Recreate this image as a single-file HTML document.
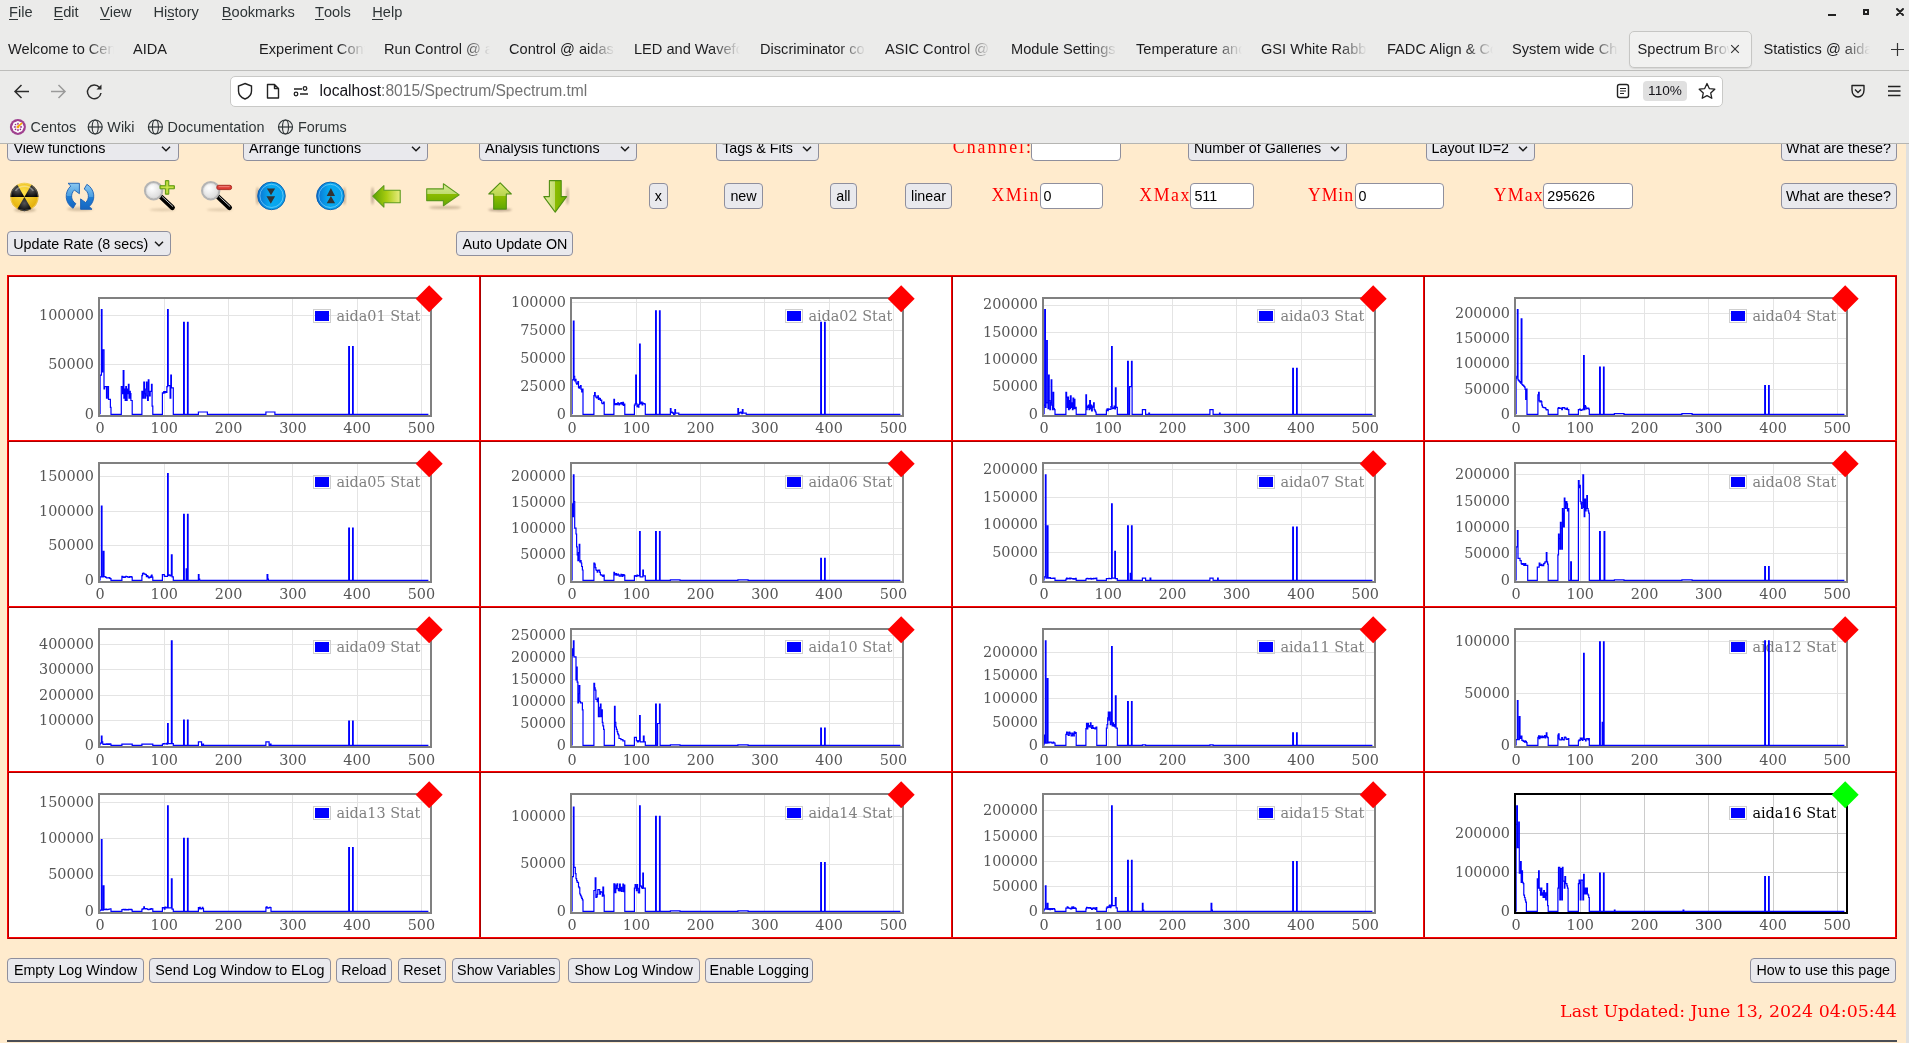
<!DOCTYPE html><html><head><meta charset="utf-8"><title>Spectrum Browser</title>
<style>
*{box-sizing:border-box;margin:0;padding:0}
html,body{width:1909px;height:1043px;overflow:hidden}
body{position:relative;background:#ebebea;font-family:'Liberation Sans', sans-serif;color:#2e3436}
.a{position:absolute;white-space:nowrap}
.mi{position:absolute;top:3px;font-size:14.6px;line-height:18px;color:#2e3436}
.mi u{text-decoration:none;border-bottom:1px solid #2e3436;display:inline-block;line-height:14px}
.tab{position:absolute;top:40px;font-size:14.6px;line-height:18px;color:#1c1c1e;width:106px;overflow:hidden;white-space:nowrap;
  -webkit-mask-image:linear-gradient(to right,#000 74%,transparent 100%);mask-image:linear-gradient(to right,#000 74%,transparent 100%)}
.bm{position:absolute;top:118px;font-size:14.4px;line-height:18px;color:#2e3436}
.btn{position:absolute;background:#e9e9ed;border:1px solid #8f8f9d;border-radius:4px;font-size:14.3px;color:#000;
  text-align:center;white-space:nowrap;line-height:22px}
.sel{position:absolute;background:#e9e9ed;border:1px solid #8f8f9d;border-radius:4px;font-size:14.3px;color:#000;
  white-space:nowrap;overflow:hidden}
.inp{position:absolute;background:#fff;border:1px solid #8f8f9d;border-radius:4px;font-size:14.3px;color:#000;
  white-space:nowrap;line-height:22px;padding-left:3px}
.lbl{position:absolute;font-family:'Liberation Serif', serif;color:#f00;font-size:17.8px;white-space:nowrap}
svg{position:absolute;overflow:visible}
</style></head><body><div class="a" style="left:0;top:0;width:1909px;height:1043px;will-change:transform">
<div class="mi" style="left:9px"><u>F</u>ile</div>
<div class="mi" style="left:53.5px"><u>E</u>dit</div>
<div class="mi" style="left:100px"><u>V</u>iew</div>
<div class="mi" style="left:153.4px">Hi<u>s</u>tory</div>
<div class="mi" style="left:221.8px"><u>B</u>ookmarks</div>
<div class="mi" style="left:315px"><u>T</u>ools</div>
<div class="mi" style="left:372.3px"><u>H</u>elp</div>
<svg style="left:1820px;top:0" width="89" height="26" viewBox="1820 0 89 26"><rect x="1828" y="14" width="8" height="2" fill="#222"/><rect x="1864" y="10" width="4" height="4" fill="none" stroke="#222" stroke-width="2"/><path d="M1897 9 L1903 15 M1903 9 L1897 15" stroke="#222" stroke-width="2" stroke-linecap="round"/></svg>
<div class="a" style="position:absolute;left:1628.5px;top:30.5px;width:123px;height:37px;background:#f1f1f0;border:1px solid #c6c6c4;border-radius:5px;box-shadow:0 1px 1px rgba(0,0,0,0.08)"></div>
<div class="tab" style="left:8px;width:106px">Welcome to Centos</div>
<div class="tab" style="left:133px;width:106px">AIDA</div>
<div class="tab" style="left:259px;width:106px">Experiment Control</div>
<div class="tab" style="left:384px;width:106px">Run Control @ aidas</div>
<div class="tab" style="left:509px;width:106px">Control @ aidas-</div>
<div class="tab" style="left:634px;width:106px">LED and Waveform</div>
<div class="tab" style="left:760px;width:106px">Discriminator co</div>
<div class="tab" style="left:885px;width:106px">ASIC Control @ a</div>
<div class="tab" style="left:1011px;width:106px">Module Settings</div>
<div class="tab" style="left:1136px;width:106px">Temperature and</div>
<div class="tab" style="left:1261px;width:106px">GSI White Rabbit</div>
<div class="tab" style="left:1387px;width:106px">FADC Align & Co</div>
<div class="tab" style="left:1512px;width:106px">System wide Che</div>
<div class="tab" style="left:1637.6px;width:92px">Spectrum Browser</div>
<div class="tab" style="left:1763.5px;width:106px">Statistics @ aida</div>
<svg style="left:1729px;top:43px" width="12" height="12" viewBox="0 0 12 12"><path d="M2.2 2.2 L9.8 9.8 M9.8 2.2 L2.2 9.8" stroke="#333" stroke-width="1.15"/></svg>
<svg style="left:1890px;top:42px" width="15" height="15" viewBox="0 0 15 15"><path d="M7.5 1 V14 M1 7.5 H14" stroke="#333" stroke-width="1.2"/></svg>
<div class="a" style="position:absolute;left:0px;top:70px;width:1909px;height:1px;background:#bdbdbb"></div>
<svg style="left:10px;top:80px" width="100" height="24" viewBox="10 80 100 24"><path d="M15.5 91.5 H29 M21.5 85 L15 91.5 L21.5 98" fill="none" stroke="#2b2b2b" stroke-width="1.5"/><path d="M51 91.5 H65 M58.5 85 L65 91.5 L58.5 98" fill="none" stroke="#9a9a9a" stroke-width="1.5"/><path d="M99.5 87.5 A6.8 6.8 0 1 0 101 93" fill="none" stroke="#2b2b2b" stroke-width="1.5"/><path d="M101.5 84.5 L101.5 89.5 L96.5 89.5 Z" fill="#2b2b2b"/></svg>
<div class="a" style="position:absolute;left:229.5px;top:75.5px;width:1493px;height:31px;background:#fff;border:1px solid #c9c9c7;border-radius:5px"></div>
<svg style="left:235px;top:82px" width="80" height="20" viewBox="235 82 80 20"><path d="M245 83.5 L251.5 86 V91 C251.5 95 249 97.5 245 99 C241 97.5 238.5 95 238.5 91 V86 Z" fill="none" stroke="#222" stroke-width="1.4"/><path d="M267.5 84.5 H274.5 L278.5 88.5 V98 H267.5 Z M274.5 84.5 V88.5 H278.5" fill="none" stroke="#222" stroke-width="1.4" stroke-linejoin="round"/><path d="M294 89 H302 M300 94 H308" stroke="#222" stroke-width="1.4"/><circle cx="305" cy="88.5" r="1.8" fill="none" stroke="#222" stroke-width="1.3"/><circle cx="296" cy="94" r="1.8" fill="none" stroke="#222" stroke-width="1.3"/></svg>
<div class="a" style="left:319.5px;top:82px;font-size:15.6px;line-height:18px;color:#15141a">localhost<span style="color:#737373">:8015/Spectrum/Spectrum.tml</span></div>
<svg style="left:1614px;top:82px" width="110" height="20" viewBox="1614 82 110 20"><rect x="1617.5" y="84.5" width="11" height="13" rx="2" fill="none" stroke="#222" stroke-width="1.4"/><path d="M1620 88.5 H1626 M1620 91 H1626 M1620 93.5 H1624" stroke="#222" stroke-width="1.2"/><path d="M1707 83.5 L1709.3 88.6 L1714.8 89.2 L1710.7 92.9 L1711.8 98.3 L1707 95.6 L1702.2 98.3 L1703.3 92.9 L1699.2 89.2 L1704.7 88.6 Z" fill="none" stroke="#222" stroke-width="1.3" stroke-linejoin="round"/></svg>
<div class="a" style="position:absolute;left:1643px;top:81px;width:44px;height:19.5px;background:#e0e0e0;border-radius:4px;font-size:13.6px;line-height:19.5px;text-align:center;color:#15141a">110%</div>
<svg style="left:1848px;top:82px" width="56" height="18" viewBox="1848 82 56 18"><path d="M1852 85.5 H1864 V90 C1864 94 1861.5 97 1858 97 C1854.5 97 1852 94 1852 90 Z" fill="none" stroke="#222" stroke-width="1.4" stroke-linejoin="round"/><path d="M1855 89.5 L1858 92.5 L1861 89.5" fill="none" stroke="#222" stroke-width="1.4"/><path d="M1888 86.5 H1900.5 M1888 91 H1900.5 M1888 95.5 H1900.5" stroke="#222" stroke-width="1.4"/></svg>
<svg style="left:9px;top:118px" width="300" height="18" viewBox="9 118 300 18"><circle cx="17.9" cy="126.9" r="8" fill="#a0418f"/><path d="M17.9 120.9 L22.1 122.7 L23.9 126.9 L22.1 131.1 L17.9 132.9 L13.7 131.1 L11.9 126.9 L13.7 122.7 Z" fill="#fff"/><path d="M13.8 122.8 H22 V131 H13.8 Z" fill="#fff"/><g fill="#b060a8"><rect x="16.9" y="122.8" width="2" height="2"/><rect x="16.9" y="129.1" width="2" height="2"/><rect x="13.8" y="125.9" width="2" height="2"/><rect x="20.1" y="125.9" width="2" height="2"/></g><g fill="#8e2f80"><circle cx="15.5" cy="124.5" r="0.8"/><circle cx="15.5" cy="129.4" r="0.8"/><circle cx="20.4" cy="129.4" r="0.8"/></g><rect x="16.6" y="125.6" width="2.6" height="2.6" fill="#f0a020"/><path d="M18.6 126.2 L21.6 123.3" stroke="#f5a800" stroke-width="1.6" stroke-linecap="round"/><g fill="none" stroke="#2e3436" stroke-width="1.2"><circle cx="95.2" cy="127" r="7"/><ellipse cx="95.2" cy="127" rx="3" ry="7"/><path d="M88.2 127 H102.2"/></g><g fill="none" stroke="#2e3436" stroke-width="1.2"><circle cx="155.4" cy="127" r="7"/><ellipse cx="155.4" cy="127" rx="3" ry="7"/><path d="M148.4 127 H162.4"/></g><g fill="none" stroke="#2e3436" stroke-width="1.2"><circle cx="285.5" cy="127" r="7"/><ellipse cx="285.5" cy="127" rx="3" ry="7"/><path d="M278.5 127 H292.5"/></g></svg>
<div class="bm" style="left:30.5px">Centos</div>
<div class="bm" style="left:107.3px">Wiki</div>
<div class="bm" style="left:167.6px">Documentation</div>
<div class="bm" style="left:298px">Forums</div>
<div class="a" style="position:absolute;left:0px;top:143px;width:1909px;height:1px;background:#b5b5b2"></div>
<div class="a" style="position:absolute;left:0px;top:144px;width:1906px;height:899px;background:#ffebcd"></div>
<div class="a" style="position:absolute;left:1906px;top:144px;width:3px;height:899px;background:#e0e0e0"></div>
<div class="a" style="left:0;top:144px;width:1906px;height:899px;overflow:hidden">
<div class="a" style="left:0;top:-144px;width:1906px;height:1043px">
<div class="sel" style="position:absolute;left:7.4px;top:135.8px;width:171.2px;height:24.799999999999983px;line-height:22.799999999999983px;padding-left:5px"><span style="position:relative;top:-0.3px">View functions</span></div>
<svg style="left:161.29999999999998px;top:144.5px" width="10" height="8" viewBox="0 0 10 8"><path d="M1 1.8 L5 5.8 L9 1.8" fill="none" stroke="#1a1a1a" stroke-width="1.5"/></svg>
<div class="sel" style="position:absolute;left:243.1px;top:135.8px;width:184.9px;height:24.799999999999983px;line-height:22.799999999999983px;padding-left:5px"><span style="position:relative;top:-0.3px">Arrange functions</span></div>
<svg style="left:410.7px;top:144.5px" width="10" height="8" viewBox="0 0 10 8"><path d="M1 1.8 L5 5.8 L9 1.8" fill="none" stroke="#1a1a1a" stroke-width="1.5"/></svg>
<div class="sel" style="position:absolute;left:479.1px;top:135.8px;width:158.29999999999995px;height:24.799999999999983px;line-height:22.799999999999983px;padding-left:5px"><span style="position:relative;top:-0.3px">Analysis functions</span></div>
<svg style="left:620.1px;top:144.5px" width="10" height="8" viewBox="0 0 10 8"><path d="M1 1.8 L5 5.8 L9 1.8" fill="none" stroke="#1a1a1a" stroke-width="1.5"/></svg>
<div class="sel" style="position:absolute;left:716.2px;top:135.8px;width:103.29999999999995px;height:24.799999999999983px;line-height:22.799999999999983px;padding-left:5px"><span style="position:relative;top:-0.3px">Tags &amp; Fits</span></div>
<svg style="left:802.2px;top:144.5px" width="10" height="8" viewBox="0 0 10 8"><path d="M1 1.8 L5 5.8 L9 1.8" fill="none" stroke="#1a1a1a" stroke-width="1.5"/></svg>
<div class="lbl" style="left:952.8px;top:137.4px;line-height:20px;letter-spacing:2.0px">Channel:</div>
<div class="inp" style="position:absolute;left:1031.4px;top:135.8px;width:89.19999999999982px;height:24.799999999999983px;line-height:22.799999999999983px"><span style="position:relative;top:0.9px"></span></div>
<div class="sel" style="position:absolute;left:1188px;top:135.8px;width:159px;height:24.799999999999983px;line-height:22.799999999999983px;padding-left:5px"><span style="position:relative;top:-0.3px">Number of Galleries</span></div>
<svg style="left:1329.7px;top:144.5px" width="10" height="8" viewBox="0 0 10 8"><path d="M1 1.8 L5 5.8 L9 1.8" fill="none" stroke="#1a1a1a" stroke-width="1.5"/></svg>
<div class="sel" style="position:absolute;left:1425.5px;top:135.8px;width:109.70000000000005px;height:24.799999999999983px;line-height:22.799999999999983px;padding-left:5px"><span style="position:relative;top:-0.3px">Layout ID=2</span></div>
<svg style="left:1517.9px;top:144.5px" width="10" height="8" viewBox="0 0 10 8"><path d="M1 1.8 L5 5.8 L9 1.8" fill="none" stroke="#1a1a1a" stroke-width="1.5"/></svg>
<div class="btn" style="position:absolute;left:1780.5px;top:135.8px;width:116.0px;height:24.799999999999983px;line-height:22.799999999999983px"><span style="position:relative;top:-0.3px">What are these?</span></div>
<div class="btn" style="position:absolute;left:649.2px;top:183.4px;width:18.5px;height:25.299999999999983px;line-height:23.299999999999983px"><span style="position:relative;top:0.8px">x</span></div>
<div class="btn" style="position:absolute;left:724.3px;top:183.4px;width:38.40000000000009px;height:25.299999999999983px;line-height:23.299999999999983px"><span style="position:relative;top:0.8px">new</span></div>
<div class="btn" style="position:absolute;left:830.2px;top:183.4px;width:26.399999999999977px;height:25.299999999999983px;line-height:23.299999999999983px"><span style="position:relative;top:0.8px">all</span></div>
<div class="btn" style="position:absolute;left:905.2px;top:183.4px;width:46.59999999999991px;height:25.299999999999983px;line-height:23.299999999999983px"><span style="position:relative;top:0.8px">linear</span></div>
<div class="lbl" style="left:991.6px;top:184.9px;line-height:20px;letter-spacing:1.4px">XMin</div>
<div class="inp" style="position:absolute;left:1039.5px;top:183.4px;width:63.200000000000045px;height:25.299999999999983px;line-height:23.299999999999983px"><span style="position:relative;top:0.9px">0</span></div>
<div class="lbl" style="left:1139.2px;top:184.9px;line-height:20px;letter-spacing:1.6px">XMax</div>
<div class="inp" style="position:absolute;left:1190.4px;top:183.4px;width:63.299999999999955px;height:25.299999999999983px;line-height:23.299999999999983px"><span style="position:relative;top:0.9px">511</span></div>
<div class="lbl" style="left:1307.9px;top:184.9px;line-height:20px;letter-spacing:0.9px">YMin</div>
<div class="inp" style="position:absolute;left:1354.5px;top:183.4px;width:89.20000000000005px;height:25.299999999999983px;line-height:23.299999999999983px"><span style="position:relative;top:0.9px">0</span></div>
<div class="lbl" style="left:1493.7px;top:184.9px;line-height:20px;letter-spacing:1.2px">YMax</div>
<div class="inp" style="position:absolute;left:1543.3px;top:183.4px;width:89.29999999999995px;height:25.299999999999983px;line-height:23.299999999999983px"><span style="position:relative;top:0.9px">295626</span></div>
<div class="btn" style="position:absolute;left:1780.5px;top:183.4px;width:116.0px;height:25.299999999999983px;line-height:23.299999999999983px"><span style="position:relative;top:0.8px">What are these?</span></div>
<div class="sel" style="position:absolute;left:7.2px;top:231.4px;width:164.10000000000002px;height:24.799999999999983px;line-height:22.799999999999983px;padding-left:5px"><span style="position:relative;top:0.8px">Update Rate (8 secs)</span></div>
<svg style="left:154.0px;top:240.10000000000002px" width="10" height="8" viewBox="0 0 10 8"><path d="M1 1.8 L5 5.8 L9 1.8" fill="none" stroke="#1a1a1a" stroke-width="1.5"/></svg>
<div class="btn" style="position:absolute;left:456.3px;top:231.4px;width:117.19999999999999px;height:24.799999999999983px;line-height:22.799999999999983px"><span style="position:relative;top:0.8px">Auto Update ON</span></div>
<div class="btn" style="position:absolute;left:7.3px;top:957.6px;width:136.39999999999998px;height:25.0px;line-height:23.0px"><span style="position:relative;top:0.8px">Empty Log Window</span></div>
<div class="btn" style="position:absolute;left:149.2px;top:957.6px;width:181.5px;height:25.0px;line-height:23.0px"><span style="position:relative;top:0.8px">Send Log Window to ELog</span></div>
<div class="btn" style="position:absolute;left:336.2px;top:957.6px;width:55.400000000000034px;height:25.0px;line-height:23.0px"><span style="position:relative;top:0.8px">Reload</span></div>
<div class="btn" style="position:absolute;left:398.2px;top:957.6px;width:47.5px;height:25.0px;line-height:23.0px"><span style="position:relative;top:0.8px">Reset</span></div>
<div class="btn" style="position:absolute;left:452.3px;top:957.6px;width:107.90000000000003px;height:25.0px;line-height:23.0px"><span style="position:relative;top:0.8px">Show Variables</span></div>
<div class="btn" style="position:absolute;left:567.6px;top:957.6px;width:132.0px;height:25.0px;line-height:23.0px"><span style="position:relative;top:0.8px">Show Log Window</span></div>
<div class="btn" style="position:absolute;left:705.4px;top:957.6px;width:107.80000000000007px;height:25.0px;line-height:23.0px"><span style="position:relative;top:0.8px">Enable Logging</span></div>
<div class="btn" style="position:absolute;left:1750.1px;top:957.6px;width:146.4000000000001px;height:25.0px;line-height:23.0px"><span style="position:relative;top:0.8px">How to use this page</span></div>
<div class="a" style="right:9.200000000000045px;top:1001.0px;font-family:'DejaVu Serif', 'Liberation Serif', serif;font-size:17.4px;line-height:20px;color:#f00">Last Updated: June 13, 2024 04:05:44</div>
<div class="a" style="position:absolute;left:7px;top:1040px;width:1890px;height:2px;background:#4b4e55"></div>
<svg style="left:0;top:170px" width="600" height="50" viewBox="0 170 600 50"><defs><radialGradient id="gY" cx="0.45" cy="0.35" r="0.7"><stop offset="0" stop-color="#ffe24a"/><stop offset="1" stop-color="#e0a800"/></radialGradient><radialGradient id="gK" cx="0.5" cy="0.45" r="0.6"><stop offset="0" stop-color="#555"/><stop offset="1" stop-color="#050505"/></radialGradient><linearGradient id="gB" x1="0" y1="0" x2="1" y2="0"><stop offset="0" stop-color="#0a6fd0"/><stop offset="0.45" stop-color="#08aaf0"/><stop offset="1" stop-color="#0aa0ea"/></linearGradient><linearGradient id="gR" x1="0" y1="0" x2="0" y2="1"><stop offset="0" stop-color="#8cc8f0"/><stop offset="0.5" stop-color="#4a9ee0"/><stop offset="0.5" stop-color="#1f7fd6"/><stop offset="1" stop-color="#1565c0"/></linearGradient><linearGradient id="gL" x1="0" y1="0" x2="1" y2="0"><stop offset="0" stop-color="#5aa000"/><stop offset="0.5" stop-color="#a8cc10"/><stop offset="1" stop-color="#e8ec80"/></linearGradient><linearGradient id="gRt" x1="0" y1="0" x2="0" y2="1"><stop offset="0" stop-color="#d8ea98"/><stop offset="0.45" stop-color="#c0dc70"/><stop offset="0.46" stop-color="#8cbc00"/><stop offset="1" stop-color="#6aa800"/></linearGradient><linearGradient id="gU" x1="0" y1="0" x2="0" y2="1"><stop offset="0" stop-color="#dcea70"/><stop offset="0.5" stop-color="#b8d450"/><stop offset="0.52" stop-color="#8cbc00"/><stop offset="1" stop-color="#5ea800"/></linearGradient><linearGradient id="gD" x1="0" y1="0" x2="1" y2="0"><stop offset="0" stop-color="#e4ee9c"/><stop offset="0.48" stop-color="#c4dc70"/><stop offset="0.5" stop-color="#8cbc00"/><stop offset="1" stop-color="#6aae00"/></linearGradient><radialGradient id="gG" cx="0.4" cy="0.35" r="0.6"><stop offset="0" stop-color="#fff"/><stop offset="1" stop-color="#dcdcdc"/></radialGradient><filter id="bl" x="-50%" y="-50%" width="200%" height="200%"><feGaussianBlur stdDeviation="1.2"/></filter></defs><ellipse cx="25" cy="210" rx="11" ry="2" fill="#7a6040" opacity="0.35" filter="url(#bl)"/><circle cx="24.4" cy="196.9" r="14.1" fill="url(#gY)"/><path d="M24.4 196.9L31.45 184.69A14.1 14.1 0 0 1 38.50 196.90Z" fill="url(#gK)"/><path d="M24.4 196.9L31.45 209.11A14.1 14.1 0 0 1 17.35 209.11Z" fill="url(#gK)"/><path d="M24.4 196.9L10.30 196.90A14.1 14.1 0 0 1 17.35 184.69Z" fill="url(#gK)"/><circle cx="24.4" cy="196.9" r="13.6" fill="none" stroke="#ffffff" stroke-opacity="0.25" stroke-width="1"/><path d="M15.399999999999999 190.9 A11 11 0 0 1 33.4 190.9" fill="none" stroke="#fff" stroke-opacity="0.35" stroke-width="1.5"/><ellipse cx="80" cy="209" rx="13" ry="2" fill="#7a6040" opacity="0.3" filter="url(#bl)"/><g fill="url(#gR)" stroke="#1a5fb4" stroke-width="0.9" stroke-linejoin="round"><path d="M73.10 208.25A13.8 13.8 0 0 1 70.77 186.04L68.00 183.30L79.40 183.30L79.40 193.70L74.38 190.06A8.4 8.4 0 0 0 75.80 203.57Z"/><path d="M86.90 184.35A13.8 13.8 0 0 1 89.23 206.56L92.00 209.30L80.60 209.30L80.60 198.90L85.62 202.54A8.4 8.4 0 0 0 84.20 189.03Z"/></g><ellipse cx="162.6" cy="209.8" rx="13" ry="1.5" fill="#7a6040" opacity="0.22" filter="url(#bl)"/><path d="M161.1 197 L172.4 207.6" stroke="#000" stroke-width="5" stroke-linecap="round"/><path d="M162.2 196.6 L172.79999999999998 206.4" stroke="#c8c8c8" stroke-width="1" stroke-linecap="round"/><circle cx="153.6" cy="190.7" r="8.6" fill="url(#gG)" stroke="#b4b4b4" stroke-width="2.2"/><circle cx="153.6" cy="190.7" r="7.2" fill="none" stroke="#d8d8d8" stroke-width="0.8"/><path d="M165.4 180.6 H168.8 V185.7 H174.4 V188.8 H168.8 V194.2 H165.4 V188.8 H160 V185.7 H165.4 Z" fill="#a8cc28" stroke="#5f9a14" stroke-width="1" stroke-linejoin="round"/><path d="M167.1 181.8 V193 M161.2 187.25 H173.2" stroke="#d4ec5a" stroke-width="0.9"/><ellipse cx="219.7" cy="209.8" rx="13" ry="1.5" fill="#7a6040" opacity="0.22" filter="url(#bl)"/><path d="M218.2 197 L229.5 207.6" stroke="#000" stroke-width="5" stroke-linecap="round"/><path d="M219.29999999999998 196.6 L229.89999999999998 206.4" stroke="#c8c8c8" stroke-width="1" stroke-linecap="round"/><circle cx="210.7" cy="190.7" r="8.6" fill="url(#gG)" stroke="#b4b4b4" stroke-width="2.2"/><circle cx="210.7" cy="190.7" r="7.2" fill="none" stroke="#d8d8d8" stroke-width="0.8"/><rect x="216.8" y="185.3" width="14.8" height="4.3" rx="1.8" fill="#dc3c34" stroke="#a82a22" stroke-width="0.9"/><path d="M218.6 186.7 H229.6" stroke="#f29088" stroke-width="0.9"/><ellipse cx="257.5" cy="196" rx="1.2" ry="9" fill="#5a4030" opacity="0.45" filter="url(#bl)"/><circle cx="271.5" cy="195.9" r="13.8" fill="url(#gB)" stroke="#0b5cad" stroke-width="0.9"/><circle cx="271.5" cy="195.9" r="11.6" fill="none" stroke="#8fd6ff" stroke-opacity="0.7" stroke-width="0.9"/><path d="M266.9 188.6 H275.1 L271.0 195.2 Z M266.5 196.3 H275.1 L270.8 203.8 Z" fill="#333"/><ellipse cx="344.4" cy="196" rx="1.2" ry="9" fill="#5a4030" opacity="0.45" filter="url(#bl)"/><circle cx="330.4" cy="195.9" r="13.8" fill="url(#gB)" stroke="#0b5cad" stroke-width="0.9"/><circle cx="330.4" cy="195.9" r="11.6" fill="none" stroke="#8fd6ff" stroke-opacity="0.7" stroke-width="0.9"/><path d="M326.7 195.9 H335.0 L330.9 187.9 Z M326.7 203.2 H335.09999999999997 L330.9 196.1 Z" fill="#333"/><ellipse cx="372.5" cy="196" rx="1.2" ry="9" fill="#5a4030" opacity="0.45" filter="url(#bl)"/><path d="M372.8 196.2 L383.9 185.7 L383.9 190.2 L400.2 190.2 L400.2 202.7 L383.9 202.7 L383.9 207.1 Z" fill="url(#gL)" stroke="#5c9a1c" stroke-width="1.1" stroke-linejoin="round"/><ellipse cx="445" cy="207.5" rx="16" ry="1.6" fill="#7a6040" opacity="0.35" filter="url(#bl)"/><path d="M426.7 188.9 L443.4 188.9 L443.4 183.7 L459.2 194.9 L443.4 205.7 L443.4 200.6 L426.7 200.6 Z" fill="url(#gRt)" stroke="#5c9a1c" stroke-width="1.1" stroke-linejoin="round"/><ellipse cx="500" cy="209.8" rx="12" ry="1.6" fill="#5a4030" opacity="0.4" filter="url(#bl)"/><path d="M500.2 182.8 L511.3 194 L506.3 194 L506.3 209.1 L493.7 209.1 L493.7 194 L488.8 194 Z" fill="url(#gU)" stroke="#4f8e12" stroke-width="1.1" stroke-linejoin="round"/><ellipse cx="567.5" cy="196" rx="1.1" ry="9" fill="#5a4030" opacity="0.4" filter="url(#bl)"/><path d="M549.4 180.6 L561.2 180.6 L561.2 196.6 L566.6 196.6 L555.2 212.1 L543.8 196.6 L549.4 196.6 Z" fill="url(#gD)" stroke="#4f8e12" stroke-width="1.1" stroke-linejoin="round"/></svg>
<svg style="left:0;top:0" width="1909" height="1043" viewBox="0 0 1909 1043"><rect x="7" y="275" width="1890" height="664" fill="#fff"/><rect x="7" y="275" width="1" height="664" fill="#ff0000"/><rect x="8" y="276" width="1" height="663" fill="#aa0000"/><rect x="479" y="275" width="1" height="664" fill="#ff0000"/><rect x="480" y="276" width="1" height="663" fill="#aa0000"/><rect x="951" y="275" width="1" height="664" fill="#ff0000"/><rect x="952" y="276" width="1" height="663" fill="#aa0000"/><rect x="1423" y="275" width="1" height="664" fill="#ff0000"/><rect x="1424" y="276" width="1" height="663" fill="#aa0000"/><rect x="1895" y="275" width="1" height="664" fill="#ff0000"/><rect x="1896" y="276" width="1" height="663" fill="#aa0000"/><rect x="7" y="275" width="1890" height="1" fill="#ff0000"/><rect x="8" y="276" width="1889" height="1" fill="#aa0000"/><rect x="7" y="440" width="1890" height="1" fill="#ff0000"/><rect x="8" y="441" width="1889" height="1" fill="#aa0000"/><rect x="7" y="606" width="1890" height="1" fill="#ff0000"/><rect x="8" y="607" width="1889" height="1" fill="#aa0000"/><rect x="7" y="771" width="1890" height="1" fill="#ff0000"/><rect x="8" y="772" width="1889" height="1" fill="#aa0000"/><rect x="7" y="937" width="1890" height="1" fill="#ff0000"/><rect x="8" y="938" width="1889" height="1" fill="#aa0000"/><path d="M164.5 299V415" stroke="#e4e4e4" stroke-width="1"/><path d="M228.5 299V415" stroke="#e4e4e4" stroke-width="1"/><path d="M292.5 299V415" stroke="#e4e4e4" stroke-width="1"/><path d="M357.5 299V415" stroke="#e4e4e4" stroke-width="1"/><path d="M421.5 299V415" stroke="#e4e4e4" stroke-width="1"/><path d="M100 364.5H430" stroke="#e4e4e4" stroke-width="1"/><path d="M100 315.5H430" stroke="#e4e4e4" stroke-width="1"/><text x="94" y="418.7" text-anchor="end" fill="#555" style="font-family:'DejaVu Serif','Liberation Serif',serif;font-size:14.4px">0</text><text x="94" y="369.3" text-anchor="end" fill="#555" style="font-family:'DejaVu Serif','Liberation Serif',serif;font-size:14.4px">50000</text><text x="94" y="320.0" text-anchor="end" fill="#555" style="font-family:'DejaVu Serif','Liberation Serif',serif;font-size:14.4px">100000</text><text x="100.1" y="433" text-anchor="middle" fill="#555" style="font-family:'DejaVu Serif','Liberation Serif',serif;font-size:14.4px">0</text><text x="164.3" y="433" text-anchor="middle" fill="#555" style="font-family:'DejaVu Serif','Liberation Serif',serif;font-size:14.4px">100</text><text x="228.6" y="433" text-anchor="middle" fill="#555" style="font-family:'DejaVu Serif','Liberation Serif',serif;font-size:14.4px">200</text><text x="292.9" y="433" text-anchor="middle" fill="#555" style="font-family:'DejaVu Serif','Liberation Serif',serif;font-size:14.4px">300</text><text x="357.1" y="433" text-anchor="middle" fill="#555" style="font-family:'DejaVu Serif','Liberation Serif',serif;font-size:14.4px">400</text><text x="421.4" y="433" text-anchor="middle" fill="#555" style="font-family:'DejaVu Serif','Liberation Serif',serif;font-size:14.4px">500</text><rect x="313.5" y="309.5" width="17" height="13" fill="none" stroke="#cfcfcf" stroke-width="1"/><rect x="315" y="311" width="14" height="10" fill="#0000ff"/><text x="336.4" y="320.8" fill="#808080" style="font-family:'DejaVu Serif','Liberation Serif',serif;font-size:14.4px">aida01 Stat</text><path d="M100.1 414.3V375.2H101.4V309.6H102V371.8H102.7V349.9H104V389H104.6V386.7H106.5V398.2H107.2V386.7H108.5V399.4H110.4V407.4H111V414.3H121.3V386.7H122.6V393.6H123.2V370.6H123.9V398.2H124.5V389H125.2V400.5H125.8V386.7H126.4V400.5H127.1V389H127.7V393.6H128.4V384.4H129V398.2H129.7V391.3H130.3V393.6H130.9V400.5H132.2V414.3H141.9V391.3H143.1V398.2H143.8V382.1H144.4V393.6H145.1V398.2H145.7V389H146.4V382.1H147V395.9H147.6V400.5H148.3V379.8H148.9V391.3H149.6V395.9H150.2V391.3H151.5V384.4H152.1V406.2H152.8V414.3H162.4V392.9H163.1V393.1H163.7V391.7H164.3V392.9H165V391.6H165.6V391.8H166.3V392.3H166.9V386.7H167.6V309.6H168.2V385.6H170.1V398.2H170.8V375.2H171.4V387.9H173.3V414.3H183.6V322.3H184.3V414.3H187.5V322.3H188.1V414.3H198.4V412H207.4V414.3H265.9V412H274.9V414.3H348.7V346.5H349.4V414.3H352.6V346.5H353.2V414.3H428.4" fill="none" stroke="#0000ff" stroke-width="1.2" stroke-linejoin="miter"/><rect x="99" y="298" width="332" height="118" fill="none" stroke="#808080" stroke-width="2"/><path d="M429.2 285.2L442.7 298.7L429.2 312.2L415.7 298.7Z" fill="#ff0000"/><path d="M636.5 299V415" stroke="#e4e4e4" stroke-width="1"/><path d="M700.5 299V415" stroke="#e4e4e4" stroke-width="1"/><path d="M764.5 299V415" stroke="#e4e4e4" stroke-width="1"/><path d="M829.5 299V415" stroke="#e4e4e4" stroke-width="1"/><path d="M893.5 299V415" stroke="#e4e4e4" stroke-width="1"/><path d="M572 386.5H902" stroke="#e4e4e4" stroke-width="1"/><path d="M572 358.5H902" stroke="#e4e4e4" stroke-width="1"/><path d="M572 330.5H902" stroke="#e4e4e4" stroke-width="1"/><path d="M572 302.5H902" stroke="#e4e4e4" stroke-width="1"/><text x="566" y="418.7" text-anchor="end" fill="#555" style="font-family:'DejaVu Serif','Liberation Serif',serif;font-size:14.4px">0</text><text x="566" y="390.9" text-anchor="end" fill="#555" style="font-family:'DejaVu Serif','Liberation Serif',serif;font-size:14.4px">25000</text><text x="566" y="363.0" text-anchor="end" fill="#555" style="font-family:'DejaVu Serif','Liberation Serif',serif;font-size:14.4px">50000</text><text x="566" y="335.2" text-anchor="end" fill="#555" style="font-family:'DejaVu Serif','Liberation Serif',serif;font-size:14.4px">75000</text><text x="566" y="307.4" text-anchor="end" fill="#555" style="font-family:'DejaVu Serif','Liberation Serif',serif;font-size:14.4px">100000</text><text x="572.1" y="433" text-anchor="middle" fill="#555" style="font-family:'DejaVu Serif','Liberation Serif',serif;font-size:14.4px">0</text><text x="636.4" y="433" text-anchor="middle" fill="#555" style="font-family:'DejaVu Serif','Liberation Serif',serif;font-size:14.4px">100</text><text x="700.6" y="433" text-anchor="middle" fill="#555" style="font-family:'DejaVu Serif','Liberation Serif',serif;font-size:14.4px">200</text><text x="764.9" y="433" text-anchor="middle" fill="#555" style="font-family:'DejaVu Serif','Liberation Serif',serif;font-size:14.4px">300</text><text x="829.1" y="433" text-anchor="middle" fill="#555" style="font-family:'DejaVu Serif','Liberation Serif',serif;font-size:14.4px">400</text><text x="893.4" y="433" text-anchor="middle" fill="#555" style="font-family:'DejaVu Serif','Liberation Serif',serif;font-size:14.4px">500</text><rect x="785.5" y="309.5" width="17" height="13" fill="none" stroke="#cfcfcf" stroke-width="1"/><rect x="787" y="311" width="14" height="10" fill="#0000ff"/><text x="808.4" y="320.8" fill="#808080" style="font-family:'DejaVu Serif','Liberation Serif',serif;font-size:14.4px">aida02 Stat</text><path d="M572.1 414.3V379.8H573.4V321.1H574V376.3H574.7V380.8H575.3V379.3H576V383H576.6V384.1H577.2V383.1H577.9V381.5H578.5V387.6H579.2V388.2H579.8V386.6H580.5V385.6H581.1V389.4H581.7V391.9H582.4V389.2H583V414.3H593.9V395.7H594.6V392.6H595.2V395.8H595.9V397.1H596.5V397.8H597.2V397.5H597.8V395.8H598.4V399.4H599.1V398.1H599.7V398.5H600.4V400.3H601V400.1H601.7V403H602.3V403.6H602.9V403.5H603.6V402H604.2V414.3H613.9V399.4H614.5V404.2H615.1V404.6H615.8V403.7H616.4V404.1H617.1V404.6H617.7V402.9H618.4V403.3H619V404.8H619.6V403.7H620.3V403.9H620.9V402.7H621.6V403.2H622.2V404.7H622.9V402.3H623.5V405.3H624.1V404.2H624.8V414.3H634.4V405.1H635.1V403.9H635.7V375.2H636.4V403.9H637V406.7H637.6V405.2H638.3V407.2H638.9V404.3H639.6V344.2H640.2V402.7H640.8V403.6H641.5V402.2H642.1V404.8H642.8V403.1H643.4V403.5H644.1V403.6H644.7V404.2H645.3V414.3H655.6V310.8H656.3V414.3H659.5V310.8H660.1V414.3H670.4V408.6H671V412.4H671.7V412.1H672.3V413.2H673V412.8H673.6V414.3H674.9V409.7H675.5V413.2H678.8V414.3H737.9V408.6H738.5V414.2H739.1V412.7H739.8V412.8H740.4V412H741.1V412.4H741.7V413.6H742.4V409.7H743V413.2H746.2V414.3H820.7V322.3H821.4V414.3H824.6V322.3H825.2V414.3H900.4" fill="none" stroke="#0000ff" stroke-width="1.2" stroke-linejoin="miter"/><rect x="571" y="298" width="332" height="118" fill="none" stroke="#808080" stroke-width="2"/><path d="M901.2 285.2L914.7 298.7L901.2 312.2L887.7 298.7Z" fill="#ff0000"/><path d="M1108.5 299V415" stroke="#e4e4e4" stroke-width="1"/><path d="M1172.5 299V415" stroke="#e4e4e4" stroke-width="1"/><path d="M1236.5 299V415" stroke="#e4e4e4" stroke-width="1"/><path d="M1301.5 299V415" stroke="#e4e4e4" stroke-width="1"/><path d="M1365.5 299V415" stroke="#e4e4e4" stroke-width="1"/><path d="M1044 386.5H1374" stroke="#e4e4e4" stroke-width="1"/><path d="M1044 359.5H1374" stroke="#e4e4e4" stroke-width="1"/><path d="M1044 332.5H1374" stroke="#e4e4e4" stroke-width="1"/><path d="M1044 305.5H1374" stroke="#e4e4e4" stroke-width="1"/><text x="1038" y="418.7" text-anchor="end" fill="#555" style="font-family:'DejaVu Serif','Liberation Serif',serif;font-size:14.4px">0</text><text x="1038" y="391.4" text-anchor="end" fill="#555" style="font-family:'DejaVu Serif','Liberation Serif',serif;font-size:14.4px">50000</text><text x="1038" y="364.1" text-anchor="end" fill="#555" style="font-family:'DejaVu Serif','Liberation Serif',serif;font-size:14.4px">100000</text><text x="1038" y="336.8" text-anchor="end" fill="#555" style="font-family:'DejaVu Serif','Liberation Serif',serif;font-size:14.4px">150000</text><text x="1038" y="309.4" text-anchor="end" fill="#555" style="font-family:'DejaVu Serif','Liberation Serif',serif;font-size:14.4px">200000</text><text x="1044.1" y="433" text-anchor="middle" fill="#555" style="font-family:'DejaVu Serif','Liberation Serif',serif;font-size:14.4px">0</text><text x="1108.3" y="433" text-anchor="middle" fill="#555" style="font-family:'DejaVu Serif','Liberation Serif',serif;font-size:14.4px">100</text><text x="1172.6" y="433" text-anchor="middle" fill="#555" style="font-family:'DejaVu Serif','Liberation Serif',serif;font-size:14.4px">200</text><text x="1236.8" y="433" text-anchor="middle" fill="#555" style="font-family:'DejaVu Serif','Liberation Serif',serif;font-size:14.4px">300</text><text x="1301.1" y="433" text-anchor="middle" fill="#555" style="font-family:'DejaVu Serif','Liberation Serif',serif;font-size:14.4px">400</text><text x="1365.3" y="433" text-anchor="middle" fill="#555" style="font-family:'DejaVu Serif','Liberation Serif',serif;font-size:14.4px">500</text><rect x="1257.5" y="309.5" width="17" height="13" fill="none" stroke="#cfcfcf" stroke-width="1"/><rect x="1259" y="311" width="14" height="10" fill="#0000ff"/><text x="1280.4" y="320.8" fill="#808080" style="font-family:'DejaVu Serif','Liberation Serif',serif;font-size:14.4px">aida03 Stat</text><path d="M1044.1 414.3V405.1H1044.7V309.6H1045.4V407.4H1046V402.8H1046.7V340.7H1047.3V402.8H1048V408.6H1048.6V375.2H1049.2V400.5H1049.9V409.7H1050.5V402.8H1051.2V379.8H1051.8V405.1H1052.5V409.7H1053.1V392.4H1053.7V408.6H1054.4V409.7H1055V414.3H1065.9V392.4H1066.6V397.1H1067.2V407.4H1067.9V397.1H1068.5V409.7H1069.2V400.5H1069.8V408.6H1070.4V395.9H1071.1V407.4H1071.7V402.8H1072.4V409.7H1073V398.2H1073.7V408.6H1074.3V399.4H1074.9V408.6H1075.6V407.4H1076.2V414.3H1085.9V394.8H1086.5V409.7H1087.1V406.2H1087.8V407.4H1088.4V405.1H1089.1V409.7H1089.7V400.5H1090.4V408.6H1091V405.1H1091.6V410.9H1092.3V407.4H1092.9V406.2H1093.6V402.8H1094.2V409.7H1094.9V410.9H1095.5V412H1096.1V414.3H1106.4V410.1H1107.1V408.8H1107.7V410.7H1108.3V408.8H1109V409.5H1109.6V409.4H1110.3V409.3H1110.9V406.5H1111.6V346.5H1112.2V408.7H1112.8V408.3H1113.5V407.8H1114.1V406.1H1114.8V408.8H1115.4V387.9H1116.1V407.4H1117.3V414.3H1127.6V361.4H1128.3V414.3H1129.6V386.7H1131.5V361.4H1132.1V414.3H1142.4V409.7H1145.6V414.3H1148.8V413.2H1149.5V414.3H1209.9V409.7H1213.1V414.3H1219.5V413.2H1220.1V414.3H1292.7V368.3H1293.4V414.3H1296.6V368.3H1297.2V414.3H1372.4" fill="none" stroke="#0000ff" stroke-width="1.2" stroke-linejoin="miter"/><rect x="1043" y="298" width="332" height="118" fill="none" stroke="#808080" stroke-width="2"/><path d="M1373.2 285.2L1386.7 298.7L1373.2 312.2L1359.7 298.7Z" fill="#ff0000"/><path d="M1580.5 299V415" stroke="#e4e4e4" stroke-width="1"/><path d="M1644.5 299V415" stroke="#e4e4e4" stroke-width="1"/><path d="M1708.5 299V415" stroke="#e4e4e4" stroke-width="1"/><path d="M1773.5 299V415" stroke="#e4e4e4" stroke-width="1"/><path d="M1837.5 299V415" stroke="#e4e4e4" stroke-width="1"/><path d="M1516 389.5H1846" stroke="#e4e4e4" stroke-width="1"/><path d="M1516 363.5H1846" stroke="#e4e4e4" stroke-width="1"/><path d="M1516 338.5H1846" stroke="#e4e4e4" stroke-width="1"/><path d="M1516 313.5H1846" stroke="#e4e4e4" stroke-width="1"/><text x="1510" y="418.7" text-anchor="end" fill="#555" style="font-family:'DejaVu Serif','Liberation Serif',serif;font-size:14.4px">0</text><text x="1510" y="393.5" text-anchor="end" fill="#555" style="font-family:'DejaVu Serif','Liberation Serif',serif;font-size:14.4px">50000</text><text x="1510" y="368.4" text-anchor="end" fill="#555" style="font-family:'DejaVu Serif','Liberation Serif',serif;font-size:14.4px">100000</text><text x="1510" y="343.2" text-anchor="end" fill="#555" style="font-family:'DejaVu Serif','Liberation Serif',serif;font-size:14.4px">150000</text><text x="1510" y="318.1" text-anchor="end" fill="#555" style="font-family:'DejaVu Serif','Liberation Serif',serif;font-size:14.4px">200000</text><text x="1516.1" y="433" text-anchor="middle" fill="#555" style="font-family:'DejaVu Serif','Liberation Serif',serif;font-size:14.4px">0</text><text x="1580.3" y="433" text-anchor="middle" fill="#555" style="font-family:'DejaVu Serif','Liberation Serif',serif;font-size:14.4px">100</text><text x="1644.6" y="433" text-anchor="middle" fill="#555" style="font-family:'DejaVu Serif','Liberation Serif',serif;font-size:14.4px">200</text><text x="1708.8" y="433" text-anchor="middle" fill="#555" style="font-family:'DejaVu Serif','Liberation Serif',serif;font-size:14.4px">300</text><text x="1773.1" y="433" text-anchor="middle" fill="#555" style="font-family:'DejaVu Serif','Liberation Serif',serif;font-size:14.4px">400</text><text x="1837.3" y="433" text-anchor="middle" fill="#555" style="font-family:'DejaVu Serif','Liberation Serif',serif;font-size:14.4px">500</text><rect x="1729.5" y="309.5" width="17" height="13" fill="none" stroke="#cfcfcf" stroke-width="1"/><rect x="1731" y="311" width="14" height="10" fill="#0000ff"/><text x="1752.4" y="320.8" fill="#808080" style="font-family:'DejaVu Serif','Liberation Serif',serif;font-size:14.4px">aida04 Stat</text><path d="M1516.1 414.3V378.1H1516.7V376.4H1517.4V309.6H1518V379.8H1518.7V380.7H1519.3V381.5H1520V382.4H1520.6V383.2H1521.2V318.9H1521.9V384.5H1522.5V385.2H1523.2V385.4H1523.8V386.4H1524.5V387.2H1525.1V389.5H1525.7V399.4H1526.4V389H1527V414.3H1537.9V394.8H1538.6V392.4H1539.2V400.8H1539.9V401.8H1540.5V400.9H1541.2V401.5H1541.8V405.2H1542.4V407H1543.1V407.3H1543.7V407.7H1544.4V407.6H1545V407.8H1545.7V409H1546.3V410H1546.9V409.5H1547.6V410H1548.2V414.3H1557.9V408.4H1558.5V407.5H1559.1V408.1H1559.8V408.5H1560.4V408.3H1561.1V408.1H1561.7V409.6H1562.4V407.6H1563V407.9H1563.6V407.7H1564.3V407.9H1564.9V408.8H1565.6V408.8H1566.2V409.5H1566.9V408.2H1567.5V409.6H1568.1V409.5H1568.8V414.3H1578.4V409.6H1579.1V409.7H1579.7V409.1H1580.3V410.1H1581V410.3H1581.6V409.8H1582.3V409.9H1582.9V409H1583.6V355.7H1584.2V409.6H1584.8V405.7H1585.5V406.9H1586.1V409H1586.8V408.5H1587.4V408.1H1588.1V408H1588.7V409.1H1589.3V414.3H1599.6V367.2H1600.3V414.3H1603.5V367.2H1604.1V414.3H1614.4V413.7H1624V414.3H1681.9V413.7H1692.1V414.3H1764.7V385.6H1765.4V414.3H1768.6V385.6H1769.2V414.3H1844.4" fill="none" stroke="#0000ff" stroke-width="1.2" stroke-linejoin="miter"/><rect x="1515" y="298" width="332" height="118" fill="none" stroke="#808080" stroke-width="2"/><path d="M1845.2 285.2L1858.7 298.7L1845.2 312.2L1831.7 298.7Z" fill="#ff0000"/><path d="M164.5 464V581" stroke="#e4e4e4" stroke-width="1"/><path d="M228.5 464V581" stroke="#e4e4e4" stroke-width="1"/><path d="M292.5 464V581" stroke="#e4e4e4" stroke-width="1"/><path d="M357.5 464V581" stroke="#e4e4e4" stroke-width="1"/><path d="M421.5 464V581" stroke="#e4e4e4" stroke-width="1"/><path d="M100 545.5H430" stroke="#e4e4e4" stroke-width="1"/><path d="M100 511.5H430" stroke="#e4e4e4" stroke-width="1"/><path d="M100 476.5H430" stroke="#e4e4e4" stroke-width="1"/><text x="94" y="584.8" text-anchor="end" fill="#555" style="font-family:'DejaVu Serif','Liberation Serif',serif;font-size:14.4px">0</text><text x="94" y="550.3" text-anchor="end" fill="#555" style="font-family:'DejaVu Serif','Liberation Serif',serif;font-size:14.4px">50000</text><text x="94" y="515.8" text-anchor="end" fill="#555" style="font-family:'DejaVu Serif','Liberation Serif',serif;font-size:14.4px">100000</text><text x="94" y="481.4" text-anchor="end" fill="#555" style="font-family:'DejaVu Serif','Liberation Serif',serif;font-size:14.4px">150000</text><text x="100.1" y="599" text-anchor="middle" fill="#555" style="font-family:'DejaVu Serif','Liberation Serif',serif;font-size:14.4px">0</text><text x="164.3" y="599" text-anchor="middle" fill="#555" style="font-family:'DejaVu Serif','Liberation Serif',serif;font-size:14.4px">100</text><text x="228.6" y="599" text-anchor="middle" fill="#555" style="font-family:'DejaVu Serif','Liberation Serif',serif;font-size:14.4px">200</text><text x="292.9" y="599" text-anchor="middle" fill="#555" style="font-family:'DejaVu Serif','Liberation Serif',serif;font-size:14.4px">300</text><text x="357.1" y="599" text-anchor="middle" fill="#555" style="font-family:'DejaVu Serif','Liberation Serif',serif;font-size:14.4px">400</text><text x="421.4" y="599" text-anchor="middle" fill="#555" style="font-family:'DejaVu Serif','Liberation Serif',serif;font-size:14.4px">500</text><rect x="313.5" y="475.5" width="17" height="13" fill="none" stroke="#cfcfcf" stroke-width="1"/><rect x="315" y="477" width="14" height="10" fill="#0000ff"/><text x="336.4" y="486.8" fill="#808080" style="font-family:'DejaVu Serif','Liberation Serif',serif;font-size:14.4px">aida05 Stat</text><path d="M100.1 580.4V576.9H101.4V506.2H102V576.9H103.3V551.4H104V576.5H104.6V576.5H105.2V577.2H105.9V577.3H106.5V577.9H107.2V578H107.8V577.8H108.5V578H109.1V577.5H109.7V578.4H110.4V578.6H111V580.4H121.9V576.4H122.6V576.9H123.2V577.3H123.9V576.9H124.5V577.5H125.2V576.9H125.8V576.4H126.4V576.5H127.1V576.7H127.7V577.2H128.4V577.1H129V577.3H129.7V576.6H130.3V576.9H130.9V576.6H131.6V577.1H132.2V580.4H141.9V575.6H142.5V573.7H143.1V573.2H143.8V573.8H144.4V574.1H145.1V574.2H145.7V574.6H146.4V576.6H147V575.7H147.6V576.4H148.3V577.7H148.9V577.8H149.6V577.1H150.2V577.3H150.9V576H151.5V575.2H152.1V577.1H152.8V580.4H162.4V574.7H163.1V574.6H163.7V574.7H164.3V576.1H165V576.4H165.6V576.4H166.3V576.5H166.9V576.4H167.6V473.7H168.2V575.5H168.8V574.8H169.5V575H170.1V575.8H170.8V575.4H171.4V554.9H172.1V576.9H173.3V580.4H183.6V514.3H184.3V580.4H186.2V568.8H186.8V580.4H187.5V514.3H188.1V580.4H198.4V574.6H199V579.2H199.7V580.4H267.1V574.6H267.8V579.2H268.4V580.4H348.7V528.2H349.4V580.4H352.6V528.2H353.2V580.4H428.4" fill="none" stroke="#0000ff" stroke-width="1.2" stroke-linejoin="miter"/><rect x="99" y="463" width="332" height="119" fill="none" stroke="#808080" stroke-width="2"/><path d="M429.2 450.2L442.7 463.7L429.2 477.2L415.7 463.7Z" fill="#ff0000"/><path d="M636.5 464V581" stroke="#e4e4e4" stroke-width="1"/><path d="M700.5 464V581" stroke="#e4e4e4" stroke-width="1"/><path d="M764.5 464V581" stroke="#e4e4e4" stroke-width="1"/><path d="M829.5 464V581" stroke="#e4e4e4" stroke-width="1"/><path d="M893.5 464V581" stroke="#e4e4e4" stroke-width="1"/><path d="M572 554.5H902" stroke="#e4e4e4" stroke-width="1"/><path d="M572 528.5H902" stroke="#e4e4e4" stroke-width="1"/><path d="M572 502.5H902" stroke="#e4e4e4" stroke-width="1"/><path d="M572 476.5H902" stroke="#e4e4e4" stroke-width="1"/><text x="566" y="584.8" text-anchor="end" fill="#555" style="font-family:'DejaVu Serif','Liberation Serif',serif;font-size:14.4px">0</text><text x="566" y="558.9" text-anchor="end" fill="#555" style="font-family:'DejaVu Serif','Liberation Serif',serif;font-size:14.4px">50000</text><text x="566" y="533.1" text-anchor="end" fill="#555" style="font-family:'DejaVu Serif','Liberation Serif',serif;font-size:14.4px">100000</text><text x="566" y="507.2" text-anchor="end" fill="#555" style="font-family:'DejaVu Serif','Liberation Serif',serif;font-size:14.4px">150000</text><text x="566" y="481.3" text-anchor="end" fill="#555" style="font-family:'DejaVu Serif','Liberation Serif',serif;font-size:14.4px">200000</text><text x="572.1" y="599" text-anchor="middle" fill="#555" style="font-family:'DejaVu Serif','Liberation Serif',serif;font-size:14.4px">0</text><text x="636.4" y="599" text-anchor="middle" fill="#555" style="font-family:'DejaVu Serif','Liberation Serif',serif;font-size:14.4px">100</text><text x="700.6" y="599" text-anchor="middle" fill="#555" style="font-family:'DejaVu Serif','Liberation Serif',serif;font-size:14.4px">200</text><text x="764.9" y="599" text-anchor="middle" fill="#555" style="font-family:'DejaVu Serif','Liberation Serif',serif;font-size:14.4px">300</text><text x="829.1" y="599" text-anchor="middle" fill="#555" style="font-family:'DejaVu Serif','Liberation Serif',serif;font-size:14.4px">400</text><text x="893.4" y="599" text-anchor="middle" fill="#555" style="font-family:'DejaVu Serif','Liberation Serif',serif;font-size:14.4px">500</text><rect x="785.5" y="475.5" width="17" height="13" fill="none" stroke="#cfcfcf" stroke-width="1"/><rect x="787" y="477" width="14" height="10" fill="#0000ff"/><text x="808.4" y="486.8" fill="#808080" style="font-family:'DejaVu Serif','Liberation Serif',serif;font-size:14.4px">aida06 Stat</text><path d="M572.1 580.4V503.8H572.7V516.6H573.4V474.8H574V501.5H574.7V528.2H576V534H576.6V546.8H577.2V554.9H577.9V560.7H578.5V552.6H579.2V544.4H579.8V561.8H580.5V560.7H581.1V563H581.7V566.5H582.4V570H583V580.4H593.9V563H594.6V564.2H595.2V567.6H595.9V570H596.5V570.4H597.2V572.1H597.8V570.7H598.4V570.2H599.1V570H599.7V572.3H600.4V574.6H601V575.1H601.7V575.2H602.3V575.8H602.9V576.5H603.6V575.1H604.2V580.4H613.9V572.3H614.5V575H615.1V574H615.8V573.7H616.4V575.1H617.1V575.1H617.7V574H618.4V574.5H619V575.9H619.6V576.1H620.3V576.1H620.9V574.4H621.6V574.7H622.2V576.3H622.9V574.8H623.5V574.6H624.1V575.4H624.8V580.4H634.4V575.9H635.1V575.7H635.7V576.2H636.4V576.3H637V575.2H637.6V575.6H638.3V575.7H638.9V575.8H639.6V531.7H640.2V576.9H642.8V570H643.4V575.8H645.3V580.4H655.6V531.7H656.3V580.4H659.5V531.7H660.1V580.4H670.4V579.8H680V580.4H737.9V579.8H748.1V580.4H820.7V558.4H821.4V580.4H824.6V558.4H825.2V580.4H900.4" fill="none" stroke="#0000ff" stroke-width="1.2" stroke-linejoin="miter"/><rect x="571" y="463" width="332" height="119" fill="none" stroke="#808080" stroke-width="2"/><path d="M901.2 450.2L914.7 463.7L901.2 477.2L887.7 463.7Z" fill="#ff0000"/><path d="M1108.5 464V581" stroke="#e4e4e4" stroke-width="1"/><path d="M1172.5 464V581" stroke="#e4e4e4" stroke-width="1"/><path d="M1236.5 464V581" stroke="#e4e4e4" stroke-width="1"/><path d="M1301.5 464V581" stroke="#e4e4e4" stroke-width="1"/><path d="M1365.5 464V581" stroke="#e4e4e4" stroke-width="1"/><path d="M1044 552.5H1374" stroke="#e4e4e4" stroke-width="1"/><path d="M1044 524.5H1374" stroke="#e4e4e4" stroke-width="1"/><path d="M1044 497.5H1374" stroke="#e4e4e4" stroke-width="1"/><path d="M1044 469.5H1374" stroke="#e4e4e4" stroke-width="1"/><text x="1038" y="584.8" text-anchor="end" fill="#555" style="font-family:'DejaVu Serif','Liberation Serif',serif;font-size:14.4px">0</text><text x="1038" y="557.0" text-anchor="end" fill="#555" style="font-family:'DejaVu Serif','Liberation Serif',serif;font-size:14.4px">50000</text><text x="1038" y="529.3" text-anchor="end" fill="#555" style="font-family:'DejaVu Serif','Liberation Serif',serif;font-size:14.4px">100000</text><text x="1038" y="501.5" text-anchor="end" fill="#555" style="font-family:'DejaVu Serif','Liberation Serif',serif;font-size:14.4px">150000</text><text x="1038" y="473.8" text-anchor="end" fill="#555" style="font-family:'DejaVu Serif','Liberation Serif',serif;font-size:14.4px">200000</text><text x="1044.1" y="599" text-anchor="middle" fill="#555" style="font-family:'DejaVu Serif','Liberation Serif',serif;font-size:14.4px">0</text><text x="1108.3" y="599" text-anchor="middle" fill="#555" style="font-family:'DejaVu Serif','Liberation Serif',serif;font-size:14.4px">100</text><text x="1172.6" y="599" text-anchor="middle" fill="#555" style="font-family:'DejaVu Serif','Liberation Serif',serif;font-size:14.4px">200</text><text x="1236.8" y="599" text-anchor="middle" fill="#555" style="font-family:'DejaVu Serif','Liberation Serif',serif;font-size:14.4px">300</text><text x="1301.1" y="599" text-anchor="middle" fill="#555" style="font-family:'DejaVu Serif','Liberation Serif',serif;font-size:14.4px">400</text><text x="1365.3" y="599" text-anchor="middle" fill="#555" style="font-family:'DejaVu Serif','Liberation Serif',serif;font-size:14.4px">500</text><rect x="1257.5" y="475.5" width="17" height="13" fill="none" stroke="#cfcfcf" stroke-width="1"/><rect x="1259" y="477" width="14" height="10" fill="#0000ff"/><text x="1280.4" y="486.8" fill="#808080" style="font-family:'DejaVu Serif','Liberation Serif',serif;font-size:14.4px">aida07 Stat</text><path d="M1044.1 580.4V576.9H1045.4V474.8H1046V578.1H1047.3V525.9H1048V577.6H1048.6V578.2H1049.2V577.6H1049.9V577.7H1050.5V578.4H1051.2V578.4H1051.8V578.3H1052.5V578.4H1053.1V578H1053.7V578.4H1054.4V578.2H1055V580.4H1065.9V579.1H1066.6V578.2H1067.2V578.8H1067.9V578.7H1068.5V578.6H1069.2V578.2H1069.8V578.8H1070.4V578.2H1071.1V578.7H1071.7V578.6H1072.4V578.6H1073V579.2H1073.7V578.7H1074.3V579H1074.9V579.2H1075.6V578.3H1076.2V580.4H1085.9V579H1086.5V578.7H1087.1V578.4H1087.8V578.6H1088.4V578.9H1089.1V578.6H1089.7V578.6H1090.4V578.3H1091V579.1H1091.6V578.6H1092.3V579H1092.9V578.9H1093.6V578.3H1094.2V578.7H1094.9V578.6H1095.5V578.4H1096.1V578.2H1096.8V580.4H1106.4V578.7H1107.1V578.5H1107.7V578.7H1108.3V578.6H1109V578.4H1109.6V578.7H1110.3V578.6H1110.9V578.7H1111.6V503.8H1112.2V578.1H1114.8V551.4H1115.4V578.7H1117.3V580.4H1127.6V525.9H1128.3V580.4H1130.2V573.4H1130.8V580.4H1131.5V525.9H1132.1V580.4H1142.4V578.1H1145.6V580.4H1150.1V578.1H1150.8V580.4H1209.9V578.1H1213.1V580.4H1217.6V578.1H1218.2V580.4H1292.7V527H1293.4V580.4H1296.6V527H1297.2V580.4H1372.4" fill="none" stroke="#0000ff" stroke-width="1.2" stroke-linejoin="miter"/><rect x="1043" y="463" width="332" height="119" fill="none" stroke="#808080" stroke-width="2"/><path d="M1373.2 450.2L1386.7 463.7L1373.2 477.2L1359.7 463.7Z" fill="#ff0000"/><path d="M1580.5 464V581" stroke="#e4e4e4" stroke-width="1"/><path d="M1644.5 464V581" stroke="#e4e4e4" stroke-width="1"/><path d="M1708.5 464V581" stroke="#e4e4e4" stroke-width="1"/><path d="M1773.5 464V581" stroke="#e4e4e4" stroke-width="1"/><path d="M1837.5 464V581" stroke="#e4e4e4" stroke-width="1"/><path d="M1516 553.5H1846" stroke="#e4e4e4" stroke-width="1"/><path d="M1516 527.5H1846" stroke="#e4e4e4" stroke-width="1"/><path d="M1516 501.5H1846" stroke="#e4e4e4" stroke-width="1"/><path d="M1516 474.5H1846" stroke="#e4e4e4" stroke-width="1"/><text x="1510" y="584.8" text-anchor="end" fill="#555" style="font-family:'DejaVu Serif','Liberation Serif',serif;font-size:14.4px">0</text><text x="1510" y="558.4" text-anchor="end" fill="#555" style="font-family:'DejaVu Serif','Liberation Serif',serif;font-size:14.4px">50000</text><text x="1510" y="531.9" text-anchor="end" fill="#555" style="font-family:'DejaVu Serif','Liberation Serif',serif;font-size:14.4px">100000</text><text x="1510" y="505.5" text-anchor="end" fill="#555" style="font-family:'DejaVu Serif','Liberation Serif',serif;font-size:14.4px">150000</text><text x="1510" y="479.0" text-anchor="end" fill="#555" style="font-family:'DejaVu Serif','Liberation Serif',serif;font-size:14.4px">200000</text><text x="1516.1" y="599" text-anchor="middle" fill="#555" style="font-family:'DejaVu Serif','Liberation Serif',serif;font-size:14.4px">0</text><text x="1580.3" y="599" text-anchor="middle" fill="#555" style="font-family:'DejaVu Serif','Liberation Serif',serif;font-size:14.4px">100</text><text x="1644.6" y="599" text-anchor="middle" fill="#555" style="font-family:'DejaVu Serif','Liberation Serif',serif;font-size:14.4px">200</text><text x="1708.8" y="599" text-anchor="middle" fill="#555" style="font-family:'DejaVu Serif','Liberation Serif',serif;font-size:14.4px">300</text><text x="1773.1" y="599" text-anchor="middle" fill="#555" style="font-family:'DejaVu Serif','Liberation Serif',serif;font-size:14.4px">400</text><text x="1837.3" y="599" text-anchor="middle" fill="#555" style="font-family:'DejaVu Serif','Liberation Serif',serif;font-size:14.4px">500</text><rect x="1729.5" y="475.5" width="17" height="13" fill="none" stroke="#cfcfcf" stroke-width="1"/><rect x="1731" y="477" width="14" height="10" fill="#0000ff"/><text x="1752.4" y="486.8" fill="#808080" style="font-family:'DejaVu Serif','Liberation Serif',serif;font-size:14.4px">aida08 Stat</text><path d="M1516.1 580.4V546.8H1517.4V530.5H1518V558.4H1520V560.7H1521.2V563.7H1521.9V564.3H1522.5V563.9H1523.2V563.7H1523.8V565.3H1524.5V564.6H1525.1V563.7H1525.7V565.3H1527.7V580.4H1537.3V567.1H1539.2V563H1539.9V565.4H1540.5V565.5H1541.2V564.4H1541.8V565.6H1542.4V565.1H1543.1V565.6H1543.7V563.6H1544.4V563.2H1545V561.8H1546.3V552.6H1546.9V561.8H1547.6V564.2H1548.2V580.4H1557.9V554.9H1558.5V534H1559.1V538.6H1559.8V549.1H1560.4V522.4H1561.1V528.2H1561.7V549.1H1562.4V508.5H1563V513.1H1563.6V527H1564.3V498H1564.9V501.5H1565.6V508.5H1566.2V501.5H1566.9V503.8H1567.5V510.8H1568.1V508.5H1568.8V580.4H1570.7V561.8H1571.4V580.4H1578.4V480.6H1579.1V487.6H1579.7V485.3H1580.3V501.5H1581V503.8H1581.6V508.5H1582.3V502.7H1582.9V474.8H1583.6V507.3H1584.2V516.6H1584.8V499.2H1585.5V510.8H1586.1V508.5H1586.8V495.7H1587.4V508.5H1588.1V510.8H1588.7V513.1H1589.3V580.4H1599.6V531.7H1600.3V580.4H1604.1V531.7H1604.8V580.4H1614.4V579.8H1624V580.4H1681.9V579.8H1692.1V580.4H1764.7V566.5H1765.4V580.4H1768.6V566.5H1769.2V580.4H1844.4" fill="none" stroke="#0000ff" stroke-width="1.2" stroke-linejoin="miter"/><rect x="1515" y="463" width="332" height="119" fill="none" stroke="#808080" stroke-width="2"/><path d="M1845.2 450.2L1858.7 463.7L1845.2 477.2L1831.7 463.7Z" fill="#ff0000"/><path d="M164.5 630V746" stroke="#e4e4e4" stroke-width="1"/><path d="M228.5 630V746" stroke="#e4e4e4" stroke-width="1"/><path d="M292.5 630V746" stroke="#e4e4e4" stroke-width="1"/><path d="M357.5 630V746" stroke="#e4e4e4" stroke-width="1"/><path d="M421.5 630V746" stroke="#e4e4e4" stroke-width="1"/><path d="M100 720.5H430" stroke="#e4e4e4" stroke-width="1"/><path d="M100 695.5H430" stroke="#e4e4e4" stroke-width="1"/><path d="M100 669.5H430" stroke="#e4e4e4" stroke-width="1"/><path d="M100 644.5H430" stroke="#e4e4e4" stroke-width="1"/><text x="94" y="749.8" text-anchor="end" fill="#555" style="font-family:'DejaVu Serif','Liberation Serif',serif;font-size:14.4px">0</text><text x="94" y="724.6" text-anchor="end" fill="#555" style="font-family:'DejaVu Serif','Liberation Serif',serif;font-size:14.4px">100000</text><text x="94" y="699.5" text-anchor="end" fill="#555" style="font-family:'DejaVu Serif','Liberation Serif',serif;font-size:14.4px">200000</text><text x="94" y="674.3" text-anchor="end" fill="#555" style="font-family:'DejaVu Serif','Liberation Serif',serif;font-size:14.4px">300000</text><text x="94" y="649.2" text-anchor="end" fill="#555" style="font-family:'DejaVu Serif','Liberation Serif',serif;font-size:14.4px">400000</text><text x="100.1" y="765" text-anchor="middle" fill="#555" style="font-family:'DejaVu Serif','Liberation Serif',serif;font-size:14.4px">0</text><text x="164.3" y="765" text-anchor="middle" fill="#555" style="font-family:'DejaVu Serif','Liberation Serif',serif;font-size:14.4px">100</text><text x="228.6" y="765" text-anchor="middle" fill="#555" style="font-family:'DejaVu Serif','Liberation Serif',serif;font-size:14.4px">200</text><text x="292.9" y="765" text-anchor="middle" fill="#555" style="font-family:'DejaVu Serif','Liberation Serif',serif;font-size:14.4px">300</text><text x="357.1" y="765" text-anchor="middle" fill="#555" style="font-family:'DejaVu Serif','Liberation Serif',serif;font-size:14.4px">400</text><text x="421.4" y="765" text-anchor="middle" fill="#555" style="font-family:'DejaVu Serif','Liberation Serif',serif;font-size:14.4px">500</text><rect x="313.5" y="640.5" width="17" height="13" fill="none" stroke="#cfcfcf" stroke-width="1"/><rect x="315" y="642" width="14" height="10" fill="#0000ff"/><text x="336.4" y="651.8" fill="#808080" style="font-family:'DejaVu Serif','Liberation Serif',serif;font-size:14.4px">aida09 Stat</text><path d="M100.1 745.4V743.1H101.4V736.2H102V741.9H102.7V744H103.3V744.5H104V744.1H104.6V744.1H105.2V744.5H105.9V744H106.5V743.9H107.2V744.4H107.8V743.9H108.5V744.3H109.1V744.3H109.7V743.9H110.4V744H111V745.4H121.9V744.2H132.2V745.4H141.9V744.2H152.8V745.4H162.4V744.1H163.1V743.8H163.7V743.7H164.3V743.9H165V744H165.6V743.9H166.3V743.4H166.9V744.2H167.6V723.5H168.2V743.7H171.4V640.8H172.1V743.7H173.3V745.4H183.6V720.1H184.3V745.4H187.5V720.1H188.1V745.4H198.4V741.9H201.6V745.4H202.9V744.2H203.5V745.4H265.9V741.9H269.1V745.4H270.4V744.2H271V745.4H348.7V721.2H349.4V745.4H352.6V721.2H353.2V745.4H428.4" fill="none" stroke="#0000ff" stroke-width="1.2" stroke-linejoin="miter"/><rect x="99" y="629" width="332" height="118" fill="none" stroke="#808080" stroke-width="2"/><path d="M429.2 616.2L442.7 629.7L429.2 643.2L415.7 629.7Z" fill="#ff0000"/><path d="M636.5 630V746" stroke="#e4e4e4" stroke-width="1"/><path d="M700.5 630V746" stroke="#e4e4e4" stroke-width="1"/><path d="M764.5 630V746" stroke="#e4e4e4" stroke-width="1"/><path d="M829.5 630V746" stroke="#e4e4e4" stroke-width="1"/><path d="M893.5 630V746" stroke="#e4e4e4" stroke-width="1"/><path d="M572 723.5H902" stroke="#e4e4e4" stroke-width="1"/><path d="M572 701.5H902" stroke="#e4e4e4" stroke-width="1"/><path d="M572 679.5H902" stroke="#e4e4e4" stroke-width="1"/><path d="M572 657.5H902" stroke="#e4e4e4" stroke-width="1"/><path d="M572 635.5H902" stroke="#e4e4e4" stroke-width="1"/><text x="566" y="749.8" text-anchor="end" fill="#555" style="font-family:'DejaVu Serif','Liberation Serif',serif;font-size:14.4px">0</text><text x="566" y="727.9" text-anchor="end" fill="#555" style="font-family:'DejaVu Serif','Liberation Serif',serif;font-size:14.4px">50000</text><text x="566" y="706.0" text-anchor="end" fill="#555" style="font-family:'DejaVu Serif','Liberation Serif',serif;font-size:14.4px">100000</text><text x="566" y="684.0" text-anchor="end" fill="#555" style="font-family:'DejaVu Serif','Liberation Serif',serif;font-size:14.4px">150000</text><text x="566" y="662.1" text-anchor="end" fill="#555" style="font-family:'DejaVu Serif','Liberation Serif',serif;font-size:14.4px">200000</text><text x="566" y="640.2" text-anchor="end" fill="#555" style="font-family:'DejaVu Serif','Liberation Serif',serif;font-size:14.4px">250000</text><text x="572.1" y="765" text-anchor="middle" fill="#555" style="font-family:'DejaVu Serif','Liberation Serif',serif;font-size:14.4px">0</text><text x="636.4" y="765" text-anchor="middle" fill="#555" style="font-family:'DejaVu Serif','Liberation Serif',serif;font-size:14.4px">100</text><text x="700.6" y="765" text-anchor="middle" fill="#555" style="font-family:'DejaVu Serif','Liberation Serif',serif;font-size:14.4px">200</text><text x="764.9" y="765" text-anchor="middle" fill="#555" style="font-family:'DejaVu Serif','Liberation Serif',serif;font-size:14.4px">300</text><text x="829.1" y="765" text-anchor="middle" fill="#555" style="font-family:'DejaVu Serif','Liberation Serif',serif;font-size:14.4px">400</text><text x="893.4" y="765" text-anchor="middle" fill="#555" style="font-family:'DejaVu Serif','Liberation Serif',serif;font-size:14.4px">500</text><rect x="785.5" y="640.5" width="17" height="13" fill="none" stroke="#cfcfcf" stroke-width="1"/><rect x="787" y="642" width="14" height="10" fill="#0000ff"/><text x="808.4" y="651.8" fill="#808080" style="font-family:'DejaVu Serif','Liberation Serif',serif;font-size:14.4px">aida10 Stat</text><path d="M572.1 745.4V648.8H572.7V655.7H573.4V640.8H574V656.9H576V679.9H576.6V667.2H577.2V682.1H577.9V702.9H578.5V693.6H579.2V685.6H579.8V701.7H580.5V702.9H582.4V709.8H583V745.4H593.9V683.3H594.6V687.9H595.2V690.2H595.9V699.4H597.2V701.7H597.8V698.2H598.4V716.6H599.7V707.4H600.4V704H601V716.6H601.7V709.8H602.3V722.4H602.9V725.9H603.6V729.3H604.2V745.4H614.5V706.3H615.1V722.4H615.8V727H616.4V729.3H617.1V731.6H617.7V733.9H618.4V735H619V738.5H620.9V739.6H622.9V740.8H624.8V745.4H634.4V737.4H636.4V740.7H637V740.9H637.6V741.9H638.3V741.2H638.9V740.5H639.6V715.5H640.2V741.9H643.4V736.2H644.1V741.9H645.3V745.4H655.6V704H656.3V745.4H657.6V723.5H659.5V704H660.1V745.4H670.4V744.8H680V745.4H737.9V744.8H748.1V745.4H820.7V728.1H821.4V745.4H824.6V728.1H825.2V745.4H900.4" fill="none" stroke="#0000ff" stroke-width="1.2" stroke-linejoin="miter"/><rect x="571" y="629" width="332" height="118" fill="none" stroke="#808080" stroke-width="2"/><path d="M901.2 616.2L914.7 629.7L901.2 643.2L887.7 629.7Z" fill="#ff0000"/><path d="M1108.5 630V746" stroke="#e4e4e4" stroke-width="1"/><path d="M1172.5 630V746" stroke="#e4e4e4" stroke-width="1"/><path d="M1236.5 630V746" stroke="#e4e4e4" stroke-width="1"/><path d="M1301.5 630V746" stroke="#e4e4e4" stroke-width="1"/><path d="M1365.5 630V746" stroke="#e4e4e4" stroke-width="1"/><path d="M1044 722.5H1374" stroke="#e4e4e4" stroke-width="1"/><path d="M1044 698.5H1374" stroke="#e4e4e4" stroke-width="1"/><path d="M1044 675.5H1374" stroke="#e4e4e4" stroke-width="1"/><path d="M1044 652.5H1374" stroke="#e4e4e4" stroke-width="1"/><text x="1038" y="749.8" text-anchor="end" fill="#555" style="font-family:'DejaVu Serif','Liberation Serif',serif;font-size:14.4px">0</text><text x="1038" y="726.6" text-anchor="end" fill="#555" style="font-family:'DejaVu Serif','Liberation Serif',serif;font-size:14.4px">50000</text><text x="1038" y="703.3" text-anchor="end" fill="#555" style="font-family:'DejaVu Serif','Liberation Serif',serif;font-size:14.4px">100000</text><text x="1038" y="680.1" text-anchor="end" fill="#555" style="font-family:'DejaVu Serif','Liberation Serif',serif;font-size:14.4px">150000</text><text x="1038" y="656.9" text-anchor="end" fill="#555" style="font-family:'DejaVu Serif','Liberation Serif',serif;font-size:14.4px">200000</text><text x="1044.1" y="765" text-anchor="middle" fill="#555" style="font-family:'DejaVu Serif','Liberation Serif',serif;font-size:14.4px">0</text><text x="1108.3" y="765" text-anchor="middle" fill="#555" style="font-family:'DejaVu Serif','Liberation Serif',serif;font-size:14.4px">100</text><text x="1172.6" y="765" text-anchor="middle" fill="#555" style="font-family:'DejaVu Serif','Liberation Serif',serif;font-size:14.4px">200</text><text x="1236.8" y="765" text-anchor="middle" fill="#555" style="font-family:'DejaVu Serif','Liberation Serif',serif;font-size:14.4px">300</text><text x="1301.1" y="765" text-anchor="middle" fill="#555" style="font-family:'DejaVu Serif','Liberation Serif',serif;font-size:14.4px">400</text><text x="1365.3" y="765" text-anchor="middle" fill="#555" style="font-family:'DejaVu Serif','Liberation Serif',serif;font-size:14.4px">500</text><rect x="1257.5" y="640.5" width="17" height="13" fill="none" stroke="#cfcfcf" stroke-width="1"/><rect x="1259" y="642" width="14" height="10" fill="#0000ff"/><text x="1280.4" y="651.8" fill="#808080" style="font-family:'DejaVu Serif','Liberation Serif',serif;font-size:14.4px">aida11 Stat</text><path d="M1044.1 745.4V735H1044.7V743.1H1045.4V640.8H1046V743.1H1047.3V678.7H1048V742.5H1048.6V743H1049.2V742H1049.9V742.2H1050.5V742H1051.2V743H1051.8V742.8H1052.5V743.1H1053.1V742.2H1053.7V742.8H1054.4V743H1055V745.4H1065.9V734.3H1066.6V732H1067.2V732.4H1067.9V735H1068.5V735.5H1069.2V732H1069.8V733.6H1070.4V733H1071.1V735.8H1071.7V735.9H1072.4V733H1073V734.2H1073.7V735.9H1074.3V731.9H1074.9V733.3H1075.6V732.5H1076.2V745.4H1085.9V728.7H1086.5V723.4H1087.1V728.8H1087.8V723.3H1088.4V726.2H1089.1V727H1089.7V725.5H1090.4V722.9H1091V727.5H1091.6V728.4H1092.3V725.7H1092.9V727.7H1093.6V728.5H1094.2V728.2H1094.9V729H1095.5V727.9H1096.1V727.1H1096.8V745.4H1106.4V728.1H1107.1V724.7H1107.7V717.8H1108.3V712H1109V720.1H1109.6V712H1110.3V724.7H1110.9V722.4H1111.6V646.5H1112.2V726H1112.8V722.9H1113.5V726.1H1114.1V724.7H1114.8V727H1115.4V695.9H1116.1V728.1H1117.3V745.4H1127.6V701.7H1128.3V745.4H1131.5V701.7H1132.1V745.4H1142.4V744.8H1145.6V745.4H1209.9V744.8H1213.1V745.4H1292.7V732.8H1293.4V745.4H1296.6V732.8H1297.2V745.4H1372.4" fill="none" stroke="#0000ff" stroke-width="1.2" stroke-linejoin="miter"/><rect x="1043" y="629" width="332" height="118" fill="none" stroke="#808080" stroke-width="2"/><path d="M1373.2 616.2L1386.7 629.7L1373.2 643.2L1359.7 629.7Z" fill="#ff0000"/><path d="M1580.5 630V746" stroke="#e4e4e4" stroke-width="1"/><path d="M1644.5 630V746" stroke="#e4e4e4" stroke-width="1"/><path d="M1708.5 630V746" stroke="#e4e4e4" stroke-width="1"/><path d="M1773.5 630V746" stroke="#e4e4e4" stroke-width="1"/><path d="M1837.5 630V746" stroke="#e4e4e4" stroke-width="1"/><path d="M1516 693.5H1846" stroke="#e4e4e4" stroke-width="1"/><path d="M1516 641.5H1846" stroke="#e4e4e4" stroke-width="1"/><text x="1510" y="749.8" text-anchor="end" fill="#555" style="font-family:'DejaVu Serif','Liberation Serif',serif;font-size:14.4px">0</text><text x="1510" y="698.0" text-anchor="end" fill="#555" style="font-family:'DejaVu Serif','Liberation Serif',serif;font-size:14.4px">50000</text><text x="1510" y="646.2" text-anchor="end" fill="#555" style="font-family:'DejaVu Serif','Liberation Serif',serif;font-size:14.4px">100000</text><text x="1516.1" y="765" text-anchor="middle" fill="#555" style="font-family:'DejaVu Serif','Liberation Serif',serif;font-size:14.4px">0</text><text x="1580.3" y="765" text-anchor="middle" fill="#555" style="font-family:'DejaVu Serif','Liberation Serif',serif;font-size:14.4px">100</text><text x="1644.6" y="765" text-anchor="middle" fill="#555" style="font-family:'DejaVu Serif','Liberation Serif',serif;font-size:14.4px">200</text><text x="1708.8" y="765" text-anchor="middle" fill="#555" style="font-family:'DejaVu Serif','Liberation Serif',serif;font-size:14.4px">300</text><text x="1773.1" y="765" text-anchor="middle" fill="#555" style="font-family:'DejaVu Serif','Liberation Serif',serif;font-size:14.4px">400</text><text x="1837.3" y="765" text-anchor="middle" fill="#555" style="font-family:'DejaVu Serif','Liberation Serif',serif;font-size:14.4px">500</text><rect x="1729.5" y="640.5" width="17" height="13" fill="none" stroke="#cfcfcf" stroke-width="1"/><rect x="1731" y="642" width="14" height="10" fill="#0000ff"/><text x="1752.4" y="651.8" fill="#808080" style="font-family:'DejaVu Serif','Liberation Serif',serif;font-size:14.4px">aida12 Stat</text><path d="M1516.1 745.4V739.6H1517.4V700.5H1518V739.6H1519.3V716.6H1520V738.5H1521.2V736.2H1521.9V740.4H1522.5V740.3H1523.2V741.4H1523.8V741.2H1524.5V742.1H1525.1V740.8H1525.7V741.5H1526.4V742.7H1527V745.4H1537.9V737.4H1538.6V735.9H1539.2V738.7H1539.9V736.2H1540.5V737.6H1541.2V737.4H1541.8V736.2H1542.4V737.7H1543.1V737.3H1543.7V736.7H1544.4V735.7H1545V737.9H1545.7V736.2H1546.3V732.8H1546.9V736.9H1547.6V737.7H1548.2V745.4H1557.9V735H1558.5V733.9H1559.1V739H1559.8V740H1560.4V739.8H1561.1V740H1561.7V737.7H1562.4V739.3H1563V739.7H1563.6V739.9H1564.3V737.3H1564.9V737.2H1565.6V737.9H1566.2V739.3H1566.9V739.4H1567.5V739.2H1568.1V738.6H1568.8V745.4H1578.4V740.8H1579.1V739.8H1579.7V740.5H1580.3V738.1H1581V738H1581.6V739.5H1582.3V740.5H1582.9V738H1583.6V653.4H1584.2V739.4H1584.8V739.2H1585.5V740.8H1586.1V739H1586.8V738.6H1587.4V738.5H1588.1V739.9H1588.7V738.5H1589.3V745.4H1599.6V641.9H1600.3V745.4H1602.2V722.4H1602.8V745.4H1603.5V641.9H1604.1V745.4H1764.7V640.8H1765.4V745.4H1768.6V640.8H1769.2V745.4H1844.4" fill="none" stroke="#0000ff" stroke-width="1.2" stroke-linejoin="miter"/><rect x="1515" y="629" width="332" height="118" fill="none" stroke="#808080" stroke-width="2"/><path d="M1845.2 616.2L1858.7 629.7L1845.2 643.2L1831.7 629.7Z" fill="#ff0000"/><path d="M164.5 795V912" stroke="#e4e4e4" stroke-width="1"/><path d="M228.5 795V912" stroke="#e4e4e4" stroke-width="1"/><path d="M292.5 795V912" stroke="#e4e4e4" stroke-width="1"/><path d="M357.5 795V912" stroke="#e4e4e4" stroke-width="1"/><path d="M421.5 795V912" stroke="#e4e4e4" stroke-width="1"/><path d="M100 875.5H430" stroke="#e4e4e4" stroke-width="1"/><path d="M100 838.5H430" stroke="#e4e4e4" stroke-width="1"/><path d="M100 802.5H430" stroke="#e4e4e4" stroke-width="1"/><text x="94" y="915.8" text-anchor="end" fill="#555" style="font-family:'DejaVu Serif','Liberation Serif',serif;font-size:14.4px">0</text><text x="94" y="879.4" text-anchor="end" fill="#555" style="font-family:'DejaVu Serif','Liberation Serif',serif;font-size:14.4px">50000</text><text x="94" y="843.1" text-anchor="end" fill="#555" style="font-family:'DejaVu Serif','Liberation Serif',serif;font-size:14.4px">100000</text><text x="94" y="806.7" text-anchor="end" fill="#555" style="font-family:'DejaVu Serif','Liberation Serif',serif;font-size:14.4px">150000</text><text x="100.1" y="930" text-anchor="middle" fill="#555" style="font-family:'DejaVu Serif','Liberation Serif',serif;font-size:14.4px">0</text><text x="164.3" y="930" text-anchor="middle" fill="#555" style="font-family:'DejaVu Serif','Liberation Serif',serif;font-size:14.4px">100</text><text x="228.6" y="930" text-anchor="middle" fill="#555" style="font-family:'DejaVu Serif','Liberation Serif',serif;font-size:14.4px">200</text><text x="292.9" y="930" text-anchor="middle" fill="#555" style="font-family:'DejaVu Serif','Liberation Serif',serif;font-size:14.4px">300</text><text x="357.1" y="930" text-anchor="middle" fill="#555" style="font-family:'DejaVu Serif','Liberation Serif',serif;font-size:14.4px">400</text><text x="421.4" y="930" text-anchor="middle" fill="#555" style="font-family:'DejaVu Serif','Liberation Serif',serif;font-size:14.4px">500</text><rect x="313.5" y="806.5" width="17" height="13" fill="none" stroke="#cfcfcf" stroke-width="1"/><rect x="315" y="808" width="14" height="10" fill="#0000ff"/><text x="336.4" y="817.8" fill="#808080" style="font-family:'DejaVu Serif','Liberation Serif',serif;font-size:14.4px">aida13 Stat</text><path d="M100.1 911.4V910.2H101.4V839.5H102V910.2H103.3V885.9H104V909.7H104.6V909.4H105.2V909.6H105.9V909.2H106.5V909.6H107.2V909.6H107.8V909.3H108.5V909.4H109.1V909H109.7V909H110.4V908.8H111V911.4H121.9V909.6H122.6V909.5H123.2V909.4H123.9V909.7H124.5V909.8H125.2V909.3H125.8V909.9H126.4V909.5H127.1V909.6H127.7V910H128.4V909.4H129V909.4H129.7V909.6H130.3V909.5H130.9V909.4H131.6V909.9H132.2V911.4H141.9V909.1H142.5V909.1H143.1V908.7H143.8V906.8H144.4V908.7H145.1V909H145.7V908.6H146.4V908.9H147V908.9H147.6V909.4H148.3V909.6H148.9V909.5H149.6V909.2H150.2V909.5H150.9V908.7H151.5V909H152.1V908.9H152.8V911.4H162.4V907.6H163.1V907.5H163.7V907.9H164.3V909.1H165V907.2H165.6V907.3H166.3V907.9H166.9V907.8H167.6V805.8H168.2V907.9H171.4V878.9H172.1V909.1H173.3V911.4H183.6V838.3H184.3V911.4H187.5V838.3H188.1V911.4H198.4V907.6H199V908.9H199.7V907.4H200.3V908.5H201V908.9H201.6V908.5H202.3V907.4H202.9V908.6H203.5V911.4H265.9V907.4H266.5V906.8H267.1V907.9H267.8V908.2H268.4V908H269.1V907.5H269.7V907.3H270.4V907.6H271V911.4H348.7V847.6H349.4V911.4H352.6V847.6H353.2V911.4H428.4" fill="none" stroke="#0000ff" stroke-width="1.2" stroke-linejoin="miter"/><rect x="99" y="794" width="332" height="119" fill="none" stroke="#808080" stroke-width="2"/><path d="M429.2 781.2L442.7 794.7L429.2 808.2L415.7 794.7Z" fill="#ff0000"/><path d="M636.5 795V912" stroke="#e4e4e4" stroke-width="1"/><path d="M700.5 795V912" stroke="#e4e4e4" stroke-width="1"/><path d="M764.5 795V912" stroke="#e4e4e4" stroke-width="1"/><path d="M829.5 795V912" stroke="#e4e4e4" stroke-width="1"/><path d="M893.5 795V912" stroke="#e4e4e4" stroke-width="1"/><path d="M572 864.5H902" stroke="#e4e4e4" stroke-width="1"/><path d="M572 816.5H902" stroke="#e4e4e4" stroke-width="1"/><text x="566" y="915.8" text-anchor="end" fill="#555" style="font-family:'DejaVu Serif','Liberation Serif',serif;font-size:14.4px">0</text><text x="566" y="868.4" text-anchor="end" fill="#555" style="font-family:'DejaVu Serif','Liberation Serif',serif;font-size:14.4px">50000</text><text x="566" y="821.0" text-anchor="end" fill="#555" style="font-family:'DejaVu Serif','Liberation Serif',serif;font-size:14.4px">100000</text><text x="572.1" y="930" text-anchor="middle" fill="#555" style="font-family:'DejaVu Serif','Liberation Serif',serif;font-size:14.4px">0</text><text x="636.4" y="930" text-anchor="middle" fill="#555" style="font-family:'DejaVu Serif','Liberation Serif',serif;font-size:14.4px">100</text><text x="700.6" y="930" text-anchor="middle" fill="#555" style="font-family:'DejaVu Serif','Liberation Serif',serif;font-size:14.4px">200</text><text x="764.9" y="930" text-anchor="middle" fill="#555" style="font-family:'DejaVu Serif','Liberation Serif',serif;font-size:14.4px">300</text><text x="829.1" y="930" text-anchor="middle" fill="#555" style="font-family:'DejaVu Serif','Liberation Serif',serif;font-size:14.4px">400</text><text x="893.4" y="930" text-anchor="middle" fill="#555" style="font-family:'DejaVu Serif','Liberation Serif',serif;font-size:14.4px">500</text><rect x="785.5" y="806.5" width="17" height="13" fill="none" stroke="#cfcfcf" stroke-width="1"/><rect x="787" y="808" width="14" height="10" fill="#0000ff"/><text x="808.4" y="817.8" fill="#808080" style="font-family:'DejaVu Serif','Liberation Serif',serif;font-size:14.4px">aida14 Stat</text><path d="M572.1 911.4V876.6H573.4V807H574V867.3H575.3V873.6H576V878.6H576.6V880.6H577.2V882.4H577.9V882.4H578.5V886.8H579.2V887.9H579.8V894H580.5V895.4H581.1V896.9H581.7V898.4H582.4V899.8H583V911.4H593.9V890.5H595.2V877.8H595.9V897.3H596.5V896.8H597.2V894.4H597.8V889.7H598.4V889.5H599.1V889.6H599.7V894.1H600.4V891.5H601V892.1H601.7V892.1H602.3V896.1H602.9V887.1H603.6V895.2H604.2V911.4H613.9V883.8H614.5V884.2H615.1V892.7H615.8V888.6H616.4V885.2H617.1V883.9H617.7V888.7H618.4V890.3H619V890.9H619.6V884.1H620.3V890.9H620.9V887.4H621.6V891.5H622.2V888H622.9V884H623.5V891.6H624.1V885.2H624.8V911.4H634.4V888.1H635.1V884.6H635.7V886.3H636.4V890.7H637V884.5H637.6V888.3H638.3V892.6H638.9V892.8H639.6V805.8H640.2V885.9H640.8V886.2H641.5V887.3H642.1V888.4H642.8V873.1H643.4V888.2H645.3V911.4H655.6V816.3H656.3V911.4H659.5V816.3H660.1V911.4H670.4V910.8H680V911.4H737.9V910.8H748.1V911.4H820.7V862.7H821.4V911.4H824.6V862.7H825.2V911.4H900.4" fill="none" stroke="#0000ff" stroke-width="1.2" stroke-linejoin="miter"/><rect x="571" y="794" width="332" height="119" fill="none" stroke="#808080" stroke-width="2"/><path d="M901.2 781.2L914.7 794.7L901.2 808.2L887.7 794.7Z" fill="#ff0000"/><path d="M1108.5 795V912" stroke="#e4e4e4" stroke-width="1"/><path d="M1172.5 795V912" stroke="#e4e4e4" stroke-width="1"/><path d="M1236.5 795V912" stroke="#e4e4e4" stroke-width="1"/><path d="M1301.5 795V912" stroke="#e4e4e4" stroke-width="1"/><path d="M1365.5 795V912" stroke="#e4e4e4" stroke-width="1"/><path d="M1044 886.5H1374" stroke="#e4e4e4" stroke-width="1"/><path d="M1044 861.5H1374" stroke="#e4e4e4" stroke-width="1"/><path d="M1044 836.5H1374" stroke="#e4e4e4" stroke-width="1"/><path d="M1044 810.5H1374" stroke="#e4e4e4" stroke-width="1"/><text x="1038" y="915.8" text-anchor="end" fill="#555" style="font-family:'DejaVu Serif','Liberation Serif',serif;font-size:14.4px">0</text><text x="1038" y="890.7" text-anchor="end" fill="#555" style="font-family:'DejaVu Serif','Liberation Serif',serif;font-size:14.4px">50000</text><text x="1038" y="865.6" text-anchor="end" fill="#555" style="font-family:'DejaVu Serif','Liberation Serif',serif;font-size:14.4px">100000</text><text x="1038" y="840.5" text-anchor="end" fill="#555" style="font-family:'DejaVu Serif','Liberation Serif',serif;font-size:14.4px">150000</text><text x="1038" y="815.4" text-anchor="end" fill="#555" style="font-family:'DejaVu Serif','Liberation Serif',serif;font-size:14.4px">200000</text><text x="1044.1" y="930" text-anchor="middle" fill="#555" style="font-family:'DejaVu Serif','Liberation Serif',serif;font-size:14.4px">0</text><text x="1108.3" y="930" text-anchor="middle" fill="#555" style="font-family:'DejaVu Serif','Liberation Serif',serif;font-size:14.4px">100</text><text x="1172.6" y="930" text-anchor="middle" fill="#555" style="font-family:'DejaVu Serif','Liberation Serif',serif;font-size:14.4px">200</text><text x="1236.8" y="930" text-anchor="middle" fill="#555" style="font-family:'DejaVu Serif','Liberation Serif',serif;font-size:14.4px">300</text><text x="1301.1" y="930" text-anchor="middle" fill="#555" style="font-family:'DejaVu Serif','Liberation Serif',serif;font-size:14.4px">400</text><text x="1365.3" y="930" text-anchor="middle" fill="#555" style="font-family:'DejaVu Serif','Liberation Serif',serif;font-size:14.4px">500</text><rect x="1257.5" y="806.5" width="17" height="13" fill="none" stroke="#cfcfcf" stroke-width="1"/><rect x="1259" y="808" width="14" height="10" fill="#0000ff"/><text x="1280.4" y="817.8" fill="#808080" style="font-family:'DejaVu Serif','Liberation Serif',serif;font-size:14.4px">aida15 Stat</text><path d="M1044.1 911.4V909.1H1045.4V885.9H1046V909.1H1047.3V903.3H1048V909.3H1048.6V909.3H1049.2V908.7H1049.9V909.7H1050.5V908.8H1051.2V908.7H1051.8V909.5H1052.5V908.6H1053.1V908.8H1053.7V908.6H1054.4V909.3H1055V911.4H1065.9V908.2H1066.6V908.2H1067.2V906.8H1067.9V907.7H1068.5V908.2H1069.2V908.1H1069.8V908.4H1070.4V909H1071.1V908.8H1071.7V907.1H1072.4V908.4H1073V906.9H1073.7V908.5H1074.3V908.5H1074.9V907.9H1075.6V908.6H1076.2V911.4H1085.9V908.8H1086.5V907.4H1087.1V907.6H1087.8V907.8H1088.4V908.2H1089.1V907.5H1089.7V907.5H1090.4V908.4H1091V908H1091.6V909.5H1092.3V908H1092.9V908.6H1093.6V907.9H1094.2V908.2H1094.9V909H1095.5V909.5H1096.1V907.5H1096.8V911.4H1106.4V908.1H1107.1V906.9H1107.7V907.3H1108.3V907.5H1109V905.9H1109.6V905.1H1110.3V907.6H1110.9V906.2H1111.6V805.8H1112.2V905.6H1115.4V897.5H1116.1V907.9H1117.3V911.4H1127.6V860.4H1128.3V911.4H1131.5V860.4H1132.1V911.4H1142.4V903.3H1143V910.2H1143.7V911.4H1211.1V903.3H1211.8V910.2H1212.4V911.4H1292.7V861.5H1293.4V911.4H1296.6V861.5H1297.2V911.4H1372.4" fill="none" stroke="#0000ff" stroke-width="1.2" stroke-linejoin="miter"/><rect x="1043" y="794" width="332" height="119" fill="none" stroke="#808080" stroke-width="2"/><path d="M1373.2 781.2L1386.7 794.7L1373.2 808.2L1359.7 794.7Z" fill="#ff0000"/><path d="M1580.5 795V912" stroke="#cccccc" stroke-width="1"/><path d="M1644.5 795V912" stroke="#cccccc" stroke-width="1"/><path d="M1708.5 795V912" stroke="#cccccc" stroke-width="1"/><path d="M1773.5 795V912" stroke="#cccccc" stroke-width="1"/><path d="M1837.5 795V912" stroke="#cccccc" stroke-width="1"/><path d="M1516 872.5H1846" stroke="#cccccc" stroke-width="1"/><path d="M1516 833.5H1846" stroke="#cccccc" stroke-width="1"/><text x="1510" y="915.8" text-anchor="end" fill="#555" style="font-family:'DejaVu Serif','Liberation Serif',serif;font-size:14.4px">0</text><text x="1510" y="876.9" text-anchor="end" fill="#555" style="font-family:'DejaVu Serif','Liberation Serif',serif;font-size:14.4px">100000</text><text x="1510" y="837.9" text-anchor="end" fill="#555" style="font-family:'DejaVu Serif','Liberation Serif',serif;font-size:14.4px">200000</text><text x="1516.1" y="930" text-anchor="middle" fill="#555" style="font-family:'DejaVu Serif','Liberation Serif',serif;font-size:14.4px">0</text><text x="1580.3" y="930" text-anchor="middle" fill="#555" style="font-family:'DejaVu Serif','Liberation Serif',serif;font-size:14.4px">100</text><text x="1644.6" y="930" text-anchor="middle" fill="#555" style="font-family:'DejaVu Serif','Liberation Serif',serif;font-size:14.4px">200</text><text x="1708.8" y="930" text-anchor="middle" fill="#555" style="font-family:'DejaVu Serif','Liberation Serif',serif;font-size:14.4px">300</text><text x="1773.1" y="930" text-anchor="middle" fill="#555" style="font-family:'DejaVu Serif','Liberation Serif',serif;font-size:14.4px">400</text><text x="1837.3" y="930" text-anchor="middle" fill="#555" style="font-family:'DejaVu Serif','Liberation Serif',serif;font-size:14.4px">500</text><rect x="1729.5" y="806.5" width="17" height="13" fill="none" stroke="#cfcfcf" stroke-width="1"/><rect x="1731" y="808" width="14" height="10" fill="#0000ff"/><text x="1752.4" y="817.8" fill="#000" style="font-family:'DejaVu Serif','Liberation Serif',serif;font-size:14.4px">aida16 Stat</text><path d="M1516.1 911.4V824.4H1516.7V805.8H1517.4V847.6H1518.7V822.1H1519.3V873.1H1520.6V861.5H1521.2V882.4H1521.9V870.8H1522.5V882.4H1523.2V883.6H1523.8V895.2H1524.5V897.5H1525.1V899.8H1525.7V902.1H1526.4V911.4H1537.3V878.9H1537.9V888.2H1538.6V870.8H1539.2V888.2H1539.9V890.5H1540.5V895.2H1541.2V888.2H1541.8V895.2H1542.4V892.8H1543.1V897.5H1543.7V890.5H1544.4V897.5H1545V892.8H1545.7V899.8H1546.3V895.2H1546.9V883.6H1547.6V905.6H1548.2V911.4H1557.9V888.2H1558.5V867.3H1559.8V899.8H1560.4V868.5H1561.7V899.8H1562.4V867.3H1563V881.2H1564.3V888.2H1564.9V876.6H1565.6V883.6H1566.9V885.9H1567.5V888.2H1568.1V911.4H1578.4V883.6H1579.1V880.1H1579.7V882.4H1580.3V899.8H1581V880.1H1582.9V899.8H1583.6V874.3H1584.2V888.2H1584.8V894H1585.5V888.2H1586.1V894H1586.8V888.2H1587.4V894H1588.1V895.2H1588.7V897.5H1589.3V911.4H1599.6V873.1H1600.3V911.4H1603.5V873.1H1604.1V911.4H1614.4V910.2H1615V911.4H1683.1V910.2H1683.8V911.4H1764.7V876.6H1765.4V911.4H1768.6V876.6H1769.2V911.4H1844.4" fill="none" stroke="#0000ff" stroke-width="1.2" stroke-linejoin="miter"/><rect x="1515" y="794" width="332" height="119" fill="none" stroke="#000" stroke-width="2"/><path d="M1845.2 781.2L1858.7 794.7L1845.2 808.2L1831.7 794.7Z" fill="#00ff00"/></svg>
</div></div>
</div></body></html>
